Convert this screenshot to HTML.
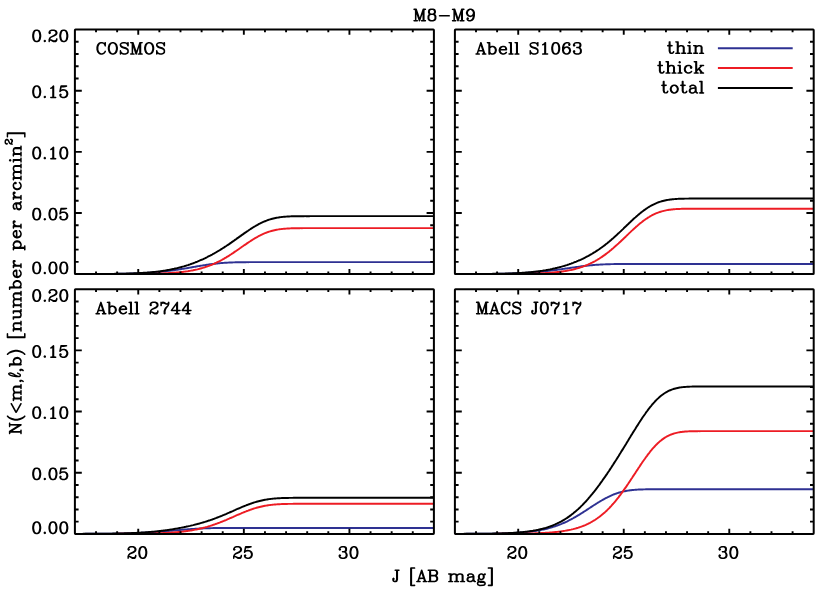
<!DOCTYPE html>
<html lang="en"><head><meta charset="utf-8"><title>M8-M9</title>
<style>html,body{margin:0;padding:0;background:#fff}svg{display:block}.h{fill:#000;stroke:none;fill-rule:evenodd}.s{font-family:"Liberation Serif",serif;font-size:16px;fill:#000;fill-opacity:0}</style></head><body>
<svg width="830" height="593" viewBox="0 0 830 593">
<rect width="830" height="593" fill="#fff"/>
<g>
<clipPath id="c0"><rect x="74.90" y="28.55" width="359.00" height="246.55"/></clipPath>
<polyline clip-path="url(#c0)" fill="none" stroke="#2e3192" stroke-width="1.95" stroke-linejoin="round" points="74.9,274.08 76.0,274.08 77.0,274.08 78.1,274.07 79.1,274.07 80.2,274.07 81.2,274.07 82.3,274.07 83.3,274.07 84.4,274.06 85.5,274.06 86.5,274.06 87.6,274.05 88.6,274.05 89.7,274.05 90.7,274.05 91.8,274.04 92.9,274.04 93.9,274.03 95.0,274.03 96.0,274.03 97.1,274.02 98.1,274.02 99.2,274.01 100.2,274.00 101.3,274.00 102.4,273.99 103.4,273.98 104.5,273.98 105.5,273.97 106.6,273.96 107.6,273.95 108.7,273.94 109.7,273.93 110.8,273.92 111.9,273.91 112.9,273.90 114.0,273.89 115.0,273.87 116.1,273.86 117.1,273.85 118.2,273.83 119.2,273.81 120.3,273.80 121.4,273.78 122.4,273.76 123.5,273.74 124.5,273.72 125.6,273.69 126.6,273.67 127.7,273.64 128.8,273.62 129.8,273.59 130.9,273.56 131.9,273.53 133.0,273.50 134.0,273.46 135.1,273.43 136.1,273.39 137.2,273.35 138.3,273.31 139.3,273.26 140.4,273.22 141.4,273.17 142.5,273.12 143.5,273.06 144.6,273.01 145.6,272.95 146.7,272.89 147.8,272.83 148.8,272.76 149.9,272.69 150.9,272.62 152.0,272.55 153.0,272.47 154.1,272.39 155.1,272.30 156.2,272.22 157.3,272.12 158.3,272.03 159.4,271.93 160.4,271.83 161.5,271.73 162.5,271.62 163.6,271.51 164.7,271.39 165.7,271.27 166.8,271.15 167.8,271.02 168.9,270.89 169.9,270.75 171.0,270.62 172.0,270.47 173.1,270.33 174.2,270.18 175.2,270.03 176.3,269.87 177.3,269.72 178.4,269.55 179.4,269.39 180.5,269.22 181.5,269.05 182.6,268.88 183.7,268.70 184.7,268.53 185.8,268.35 186.8,268.17 187.9,267.98 188.9,267.80 190.0,267.62 191.0,267.43 192.1,267.25 193.2,267.06 194.2,266.88 195.3,266.69 196.3,266.51 197.4,266.32 198.4,266.14 199.5,265.96 200.5,265.79 201.6,265.61 202.7,265.44 203.7,265.27 204.8,265.10 205.8,264.94 206.9,264.78 207.9,264.62 209.0,264.47 210.1,264.33 211.1,264.19 212.2,264.05 213.2,263.92 214.3,263.79 215.3,263.67 216.4,263.55 217.4,263.44 218.5,263.34 219.6,263.24 220.6,263.14 221.7,263.05 222.7,262.97 223.8,262.89 224.8,262.82 225.9,262.75 226.9,262.69 228.0,262.63 229.1,262.57 230.1,262.52 231.2,262.48 232.2,262.44 233.3,262.40 234.3,262.36 235.4,262.33 236.4,262.30 237.5,262.28 238.6,262.26 239.6,262.24 240.7,262.22 241.7,262.21 242.8,262.19 243.8,262.18 244.9,262.17 246.0,262.16 247.0,262.15 248.1,262.15 249.1,262.14 250.2,262.14 251.2,262.13 252.3,262.13 253.3,262.13 254.4,262.13 255.5,262.12 256.5,262.12 257.6,262.12 258.6,262.12 259.7,262.12 260.7,262.12 261.8,262.12 262.8,262.12 263.9,262.12 265.0,262.12 266.0,262.12 267.1,262.12 268.1,262.12 269.2,262.12 270.2,262.12 271.3,262.12 272.4,262.12 273.4,262.12 274.5,262.12 275.5,262.12 276.6,262.12 277.6,262.12 278.7,262.12 279.7,262.12 280.8,262.12 281.9,262.12 282.9,262.12 284.0,262.12 285.0,262.12 286.1,262.12 287.1,262.12 288.2,262.12 289.2,262.12 290.3,262.12 291.4,262.12 292.4,262.12 293.5,262.12 294.5,262.12 295.6,262.12 296.6,262.12 297.7,262.12 298.7,262.12 299.8,262.12 300.9,262.12 301.9,262.12 303.0,262.12 304.0,262.12 305.1,262.12 306.1,262.12 307.2,262.12 308.2,262.12 309.3,262.12 310.4,262.12 311.4,262.12 312.5,262.12 313.5,262.12 314.6,262.12 315.6,262.12 316.7,262.12 317.8,262.12 318.8,262.12 319.9,262.12 320.9,262.12 322.0,262.12 323.0,262.12 324.1,262.12 325.1,262.12 326.2,262.12 327.3,262.12 328.3,262.12 329.4,262.12 330.4,262.12 331.5,262.12 332.5,262.12 333.6,262.12 334.6,262.12 335.7,262.12 336.8,262.12 337.8,262.12 338.9,262.12 339.9,262.12 341.0,262.12 342.0,262.12 343.1,262.12 344.1,262.12 345.2,262.12 346.3,262.12 347.3,262.12 348.4,262.12 349.4,262.12 350.5,262.12 351.5,262.12 352.6,262.12 353.7,262.12 354.7,262.12 355.8,262.12 356.8,262.12 357.9,262.12 358.9,262.12 360.0,262.12 361.0,262.12 362.1,262.12 363.2,262.12 364.2,262.12 365.3,262.12 366.3,262.12 367.4,262.12 368.4,262.12 369.5,262.12 370.5,262.12 371.6,262.12 372.7,262.12 373.7,262.12 374.8,262.12 375.8,262.12 376.9,262.12 377.9,262.12 379.0,262.12 380.1,262.12 381.1,262.12 382.2,262.12 383.2,262.12 384.3,262.12 385.3,262.12 386.4,262.12 387.4,262.12 388.5,262.12 389.6,262.12 390.6,262.12 391.7,262.12 392.7,262.12 393.8,262.12 394.8,262.12 395.9,262.12 396.9,262.12 398.0,262.12 399.1,262.12 400.1,262.12 401.2,262.12 402.2,262.12 403.3,262.12 404.3,262.12 405.4,262.12 406.4,262.12 407.5,262.12 408.6,262.12 409.6,262.12 410.7,262.12 411.7,262.12 412.8,262.12 413.8,262.12 414.9,262.12 416.0,262.12 417.0,262.12 418.1,262.12 419.1,262.12 420.2,262.12 421.2,262.12 422.3,262.12 423.3,262.12 424.4,262.12 425.5,262.12 426.5,262.12 427.6,262.12 428.6,262.12 429.7,262.12 430.7,262.12 431.8,262.12 432.8,262.12 433.9,262.12"/>
<polyline clip-path="url(#c0)" fill="none" stroke="#ed1c24" stroke-width="1.95" stroke-linejoin="round" points="74.9,274.10 76.0,274.10 77.0,274.10 78.1,274.10 79.1,274.10 80.2,274.10 81.2,274.10 82.3,274.10 83.3,274.10 84.4,274.10 85.5,274.09 86.5,274.09 87.6,274.09 88.6,274.09 89.7,274.09 90.7,274.09 91.8,274.09 92.9,274.09 93.9,274.09 95.0,274.09 96.0,274.09 97.1,274.09 98.1,274.09 99.2,274.09 100.2,274.09 101.3,274.09 102.4,274.08 103.4,274.08 104.5,274.08 105.5,274.08 106.6,274.08 107.6,274.08 108.7,274.08 109.7,274.07 110.8,274.07 111.9,274.07 112.9,274.07 114.0,274.07 115.0,274.06 116.1,274.06 117.1,274.06 118.2,274.06 119.2,274.05 120.3,274.05 121.4,274.05 122.4,274.04 123.5,274.04 124.5,274.03 125.6,274.03 126.6,274.02 127.7,274.02 128.8,274.01 129.8,274.01 130.9,274.00 131.9,273.99 133.0,273.99 134.0,273.98 135.1,273.97 136.1,273.96 137.2,273.95 138.3,273.94 139.3,273.93 140.4,273.92 141.4,273.91 142.5,273.89 143.5,273.88 144.6,273.86 145.6,273.85 146.7,273.83 147.8,273.81 148.8,273.79 149.9,273.77 150.9,273.75 152.0,273.73 153.0,273.70 154.1,273.68 155.1,273.65 156.2,273.62 157.3,273.59 158.3,273.56 159.4,273.52 160.4,273.48 161.5,273.44 162.5,273.40 163.6,273.36 164.7,273.31 165.7,273.26 166.8,273.20 167.8,273.15 168.9,273.09 169.9,273.02 171.0,272.96 172.0,272.88 173.1,272.81 174.2,272.73 175.2,272.65 176.3,272.56 177.3,272.46 178.4,272.36 179.4,272.26 180.5,272.15 181.5,272.03 182.6,271.91 183.7,271.78 184.7,271.64 185.8,271.49 186.8,271.34 187.9,271.18 188.9,271.01 190.0,270.84 191.0,270.65 192.1,270.46 193.2,270.26 194.2,270.04 195.3,269.82 196.3,269.58 197.4,269.34 198.4,269.08 199.5,268.81 200.5,268.53 201.6,268.24 202.7,267.93 203.7,267.62 204.8,267.28 205.8,266.94 206.9,266.58 207.9,266.21 209.0,265.82 210.1,265.42 211.1,265.00 212.2,264.57 213.2,264.12 214.3,263.66 215.3,263.18 216.4,262.69 217.4,262.18 218.5,261.66 219.6,261.12 220.6,260.57 221.7,260.00 222.7,259.41 223.8,258.82 224.8,258.20 225.9,257.58 226.9,256.94 228.0,256.29 229.1,255.63 230.1,254.95 231.2,254.27 232.2,253.57 233.3,252.87 234.3,252.16 235.4,251.44 236.4,250.71 237.5,249.98 238.6,249.24 239.6,248.51 240.7,247.77 241.7,247.03 242.8,246.29 243.8,245.55 244.9,244.82 246.0,244.09 247.0,243.37 248.1,242.65 249.1,241.95 250.2,241.25 251.2,240.57 252.3,239.90 253.3,239.24 254.4,238.60 255.5,237.97 256.5,237.36 257.6,236.77 258.6,236.20 259.7,235.65 260.7,235.12 261.8,234.61 262.8,234.12 263.9,233.65 265.0,233.21 266.0,232.79 267.1,232.39 268.1,232.01 269.2,231.66 270.2,231.33 271.3,231.02 272.4,230.73 273.4,230.46 274.5,230.22 275.5,229.99 276.6,229.78 277.6,229.59 278.7,229.41 279.7,229.26 280.8,229.11 281.9,228.99 282.9,228.87 284.0,228.77 285.0,228.68 286.1,228.60 287.1,228.53 288.2,228.47 289.2,228.41 290.3,228.37 291.4,228.33 292.4,228.29 293.5,228.26 294.5,228.24 295.6,228.22 296.6,228.20 297.7,228.18 298.7,228.17 299.8,228.16 300.9,228.15 301.9,228.15 303.0,228.14 304.0,228.14 305.1,228.14 306.1,228.13 307.2,228.13 308.2,228.13 309.3,228.13 310.4,228.13 311.4,228.13 312.5,228.13 313.5,228.13 314.6,228.13 315.6,228.13 316.7,228.12 317.8,228.12 318.8,228.12 319.9,228.12 320.9,228.12 322.0,228.12 323.0,228.12 324.1,228.12 325.1,228.12 326.2,228.12 327.3,228.12 328.3,228.12 329.4,228.12 330.4,228.12 331.5,228.12 332.5,228.12 333.6,228.12 334.6,228.12 335.7,228.12 336.8,228.12 337.8,228.12 338.9,228.12 339.9,228.12 341.0,228.12 342.0,228.12 343.1,228.12 344.1,228.12 345.2,228.12 346.3,228.12 347.3,228.12 348.4,228.12 349.4,228.12 350.5,228.12 351.5,228.12 352.6,228.12 353.7,228.12 354.7,228.12 355.8,228.12 356.8,228.12 357.9,228.12 358.9,228.12 360.0,228.12 361.0,228.12 362.1,228.12 363.2,228.12 364.2,228.12 365.3,228.12 366.3,228.12 367.4,228.12 368.4,228.12 369.5,228.12 370.5,228.12 371.6,228.12 372.7,228.12 373.7,228.12 374.8,228.12 375.8,228.12 376.9,228.12 377.9,228.12 379.0,228.12 380.1,228.12 381.1,228.12 382.2,228.12 383.2,228.12 384.3,228.12 385.3,228.12 386.4,228.12 387.4,228.12 388.5,228.12 389.6,228.12 390.6,228.12 391.7,228.12 392.7,228.12 393.8,228.12 394.8,228.12 395.9,228.12 396.9,228.12 398.0,228.12 399.1,228.12 400.1,228.12 401.2,228.12 402.2,228.12 403.3,228.12 404.3,228.12 405.4,228.12 406.4,228.12 407.5,228.12 408.6,228.12 409.6,228.12 410.7,228.12 411.7,228.12 412.8,228.12 413.8,228.12 414.9,228.12 416.0,228.12 417.0,228.12 418.1,228.12 419.1,228.12 420.2,228.12 421.2,228.12 422.3,228.12 423.3,228.12 424.4,228.12 425.5,228.12 426.5,228.12 427.6,228.12 428.6,228.12 429.7,228.12 430.7,228.12 431.8,228.12 432.8,228.12 433.9,228.12"/>
<polyline clip-path="url(#c0)" fill="none" stroke="#000" stroke-width="1.95" stroke-linejoin="round" points="74.9,274.08 76.0,274.08 77.0,274.07 78.1,274.07 79.1,274.07 80.2,274.07 81.2,274.07 82.3,274.06 83.3,274.06 84.4,274.06 85.5,274.06 86.5,274.05 87.6,274.05 88.6,274.05 89.7,274.04 90.7,274.04 91.8,274.03 92.9,274.03 93.9,274.02 95.0,274.02 96.0,274.01 97.1,274.01 98.1,274.00 99.2,274.00 100.2,273.99 101.3,273.98 102.4,273.98 103.4,273.97 104.5,273.96 105.5,273.95 106.6,273.94 107.6,273.93 108.7,273.92 109.7,273.91 110.8,273.89 111.9,273.88 112.9,273.87 114.0,273.85 115.0,273.84 116.1,273.82 117.1,273.80 118.2,273.79 119.2,273.77 120.3,273.74 121.4,273.72 122.4,273.70 123.5,273.68 124.5,273.65 125.6,273.62 126.6,273.59 127.7,273.56 128.8,273.53 129.8,273.50 130.9,273.46 131.9,273.42 133.0,273.38 134.0,273.34 135.1,273.30 136.1,273.25 137.2,273.20 138.3,273.15 139.3,273.09 140.4,273.03 141.4,272.97 142.5,272.91 143.5,272.84 144.6,272.77 145.6,272.70 146.7,272.62 147.8,272.54 148.8,272.46 149.9,272.37 150.9,272.27 152.0,272.18 153.0,272.07 154.1,271.97 155.1,271.85 156.2,271.74 157.3,271.61 158.3,271.49 159.4,271.35 160.4,271.21 161.5,271.07 162.5,270.92 163.6,270.76 164.7,270.60 165.7,270.43 166.8,270.25 167.8,270.07 168.9,269.88 169.9,269.68 171.0,269.47 172.0,269.26 173.1,269.04 174.2,268.81 175.2,268.57 176.3,268.33 177.3,268.08 178.4,267.82 179.4,267.55 180.5,267.27 181.5,266.98 182.6,266.68 183.7,266.38 184.7,266.06 185.8,265.74 186.8,265.41 187.9,265.07 188.9,264.72 190.0,264.35 191.0,263.98 192.1,263.61 193.2,263.22 194.2,262.82 195.3,262.41 196.3,261.99 197.4,261.56 198.4,261.12 199.5,260.68 200.5,260.22 201.6,259.75 202.7,259.27 203.7,258.78 204.8,258.29 205.8,257.78 206.9,257.26 207.9,256.73 209.0,256.19 210.1,255.64 211.1,255.09 212.2,254.52 213.2,253.94 214.3,253.35 215.3,252.75 216.4,252.14 217.4,251.52 218.5,250.90 219.6,250.26 220.6,249.61 221.7,248.95 222.7,248.28 223.8,247.61 224.8,246.92 225.9,246.23 226.9,245.53 228.0,244.82 229.1,244.10 230.1,243.38 231.2,242.64 232.2,241.91 233.3,241.17 234.3,240.42 235.4,239.67 236.4,238.92 237.5,238.16 238.6,237.40 239.6,236.65 240.7,235.89 241.7,235.13 242.8,234.38 243.8,233.63 244.9,232.89 246.0,232.15 247.0,231.42 248.1,230.70 249.1,229.99 250.2,229.29 251.2,228.60 252.3,227.93 253.3,227.27 254.4,226.62 255.5,226.00 256.5,225.38 257.6,224.79 258.6,224.22 259.7,223.67 260.7,223.14 261.8,222.63 262.8,222.14 263.9,221.67 265.0,221.23 266.0,220.81 267.1,220.41 268.1,220.03 269.2,219.68 270.2,219.35 271.3,219.04 272.4,218.75 273.4,218.48 274.5,218.23 275.5,218.01 276.6,217.80 277.6,217.61 278.7,217.43 279.7,217.27 280.8,217.13 281.9,217.00 282.9,216.89 284.0,216.79 285.0,216.69 286.1,216.61 287.1,216.54 288.2,216.48 289.2,216.43 290.3,216.38 291.4,216.34 292.4,216.31 293.5,216.28 294.5,216.25 295.6,216.23 296.6,216.22 297.7,216.20 298.7,216.19 299.8,216.18 300.9,216.17 301.9,216.17 303.0,216.16 304.0,216.16 305.1,216.15 306.1,216.15 307.2,216.15 308.2,216.15 309.3,216.15 310.4,216.14 311.4,216.14 312.5,216.14 313.5,216.14 314.6,216.14 315.6,216.14 316.7,216.14 317.8,216.14 318.8,216.14 319.9,216.14 320.9,216.14 322.0,216.14 323.0,216.14 324.1,216.14 325.1,216.14 326.2,216.14 327.3,216.14 328.3,216.14 329.4,216.14 330.4,216.14 331.5,216.14 332.5,216.14 333.6,216.14 334.6,216.14 335.7,216.14 336.8,216.14 337.8,216.14 338.9,216.14 339.9,216.14 341.0,216.14 342.0,216.14 343.1,216.14 344.1,216.14 345.2,216.14 346.3,216.14 347.3,216.14 348.4,216.14 349.4,216.14 350.5,216.14 351.5,216.14 352.6,216.14 353.7,216.14 354.7,216.14 355.8,216.14 356.8,216.14 357.9,216.14 358.9,216.14 360.0,216.14 361.0,216.14 362.1,216.14 363.2,216.14 364.2,216.14 365.3,216.14 366.3,216.14 367.4,216.14 368.4,216.14 369.5,216.14 370.5,216.14 371.6,216.14 372.7,216.14 373.7,216.14 374.8,216.14 375.8,216.14 376.9,216.14 377.9,216.14 379.0,216.14 380.1,216.14 381.1,216.14 382.2,216.14 383.2,216.14 384.3,216.14 385.3,216.14 386.4,216.14 387.4,216.14 388.5,216.14 389.6,216.14 390.6,216.14 391.7,216.14 392.7,216.14 393.8,216.14 394.8,216.14 395.9,216.14 396.9,216.14 398.0,216.14 399.1,216.14 400.1,216.14 401.2,216.14 402.2,216.14 403.3,216.14 404.3,216.14 405.4,216.14 406.4,216.14 407.5,216.14 408.6,216.14 409.6,216.14 410.7,216.14 411.7,216.14 412.8,216.14 413.8,216.14 414.9,216.14 416.0,216.14 417.0,216.14 418.1,216.14 419.1,216.14 420.2,216.14 421.2,216.14 422.3,216.14 423.3,216.14 424.4,216.14 425.5,216.14 426.5,216.14 427.6,216.14 428.6,216.14 429.7,216.14 430.7,216.14 431.8,216.14 432.8,216.14 433.9,216.14"/>
<path d="M96.02 274.10v-2.70M96.02 29.55v2.70M117.14 274.10v-2.70M117.14 29.55v2.70M138.25 274.10v-5.20M138.25 29.55v5.20M159.37 274.10v-2.70M159.37 29.55v2.70M180.49 274.10v-2.70M180.49 29.55v2.70M201.61 274.10v-2.70M201.61 29.55v2.70M222.72 274.10v-2.70M222.72 29.55v2.70M243.84 274.10v-5.20M243.84 29.55v5.20M264.96 274.10v-2.70M264.96 29.55v2.70M286.08 274.10v-2.70M286.08 29.55v2.70M307.19 274.10v-2.70M307.19 29.55v2.70M328.31 274.10v-2.70M328.31 29.55v2.70M349.43 274.10v-5.20M349.43 29.55v5.20M370.55 274.10v-2.70M370.55 29.55v2.70M391.66 274.10v-2.70M391.66 29.55v2.70M412.78 274.10v-2.70M412.78 29.55v2.70M74.90 261.87h3.70M433.90 261.87h-3.70M74.90 249.65h3.70M433.90 249.65h-3.70M74.90 237.42h3.70M433.90 237.42h-3.70M74.90 225.19h3.70M433.90 225.19h-3.70M74.90 212.96h6.90M433.90 212.96h-7.30M74.90 200.74h3.70M433.90 200.74h-3.70M74.90 188.51h3.70M433.90 188.51h-3.70M74.90 176.28h3.70M433.90 176.28h-3.70M74.90 164.05h3.70M433.90 164.05h-3.70M74.90 151.83h6.90M433.90 151.83h-7.30M74.90 139.60h3.70M433.90 139.60h-3.70M74.90 127.37h3.70M433.90 127.37h-3.70M74.90 115.14h3.70M433.90 115.14h-3.70M74.90 102.92h3.70M433.90 102.92h-3.70M74.90 90.69h6.90M433.90 90.69h-7.30M74.90 78.46h3.70M433.90 78.46h-3.70M74.90 66.23h3.70M433.90 66.23h-3.70M74.90 54.01h3.70M433.90 54.01h-3.70M74.90 41.78h3.70M433.90 41.78h-3.70" fill="none" stroke="#000" stroke-width="1.9"/>
<rect x="74.90" y="29.55" width="359.00" height="244.55" rx="0.6" fill="none" stroke="#000" stroke-width="2" stroke-linejoin="round"/>
<path class="h" transform="translate(95.50 54.05) translate(0.00 0) scale(0.06250)" d="M1019-194l-26 9l-22 20l-3 8l1 24l8 16l16 16l18 9l50 16l16 8l12 12l0 25l-12 12l-21 7l-22 0l-21-7l-14-14l-9-25l-6-5l-9 0l-6 6l-1 4l0 54l1 4l10 7l7-2l6-7l2-6l10 7l24 8l34 0l31-12l17-17l4-10l0-33l-2-7l-8-16l-15-15l-18-9l-47-15l-19-9l-13-13l0-7l12-12l21-7l23 0l20 7l15 15l8 24l6 5l9 0l5-4l3-8l0-51l-3-7l-8-5l-8 2l-6 7l-2 6l-10-7l-24-8zM846-194l-31 12l-20 21l-8 16l-10 37l0 33l8 32l10 22l20 21l31 12l25 0l31-12l20-21l8-16l10-37l0-34l-8-32l-10-21l-20-21l-31-12zM853-170l11 0l11 5l17 16l7 14l8 31l0 26l-8 31l-8 15l-12 12l-15 8l-11 0l-12-6l-15-14l-8-15l-8-31l0-26l8-31l8-15l13-13zM557-192l-5 7l2 10l5 4l17 1l2 2l0 154l-2 2l-13 0l-7 3l-4 6l2 10l9 5l54 0l5-2l5-6l0-8l-5-6l-20-3l1-90l35 106l10 9l9-2l6-8l35-105l1 90l-20 3l-5 6l0 8l5 6l5 2l63 0l5-2l5-6l-1-10l-9-6l-15-1l0-156l20-3l5-6l-1-10l-9-6l-39 0l-7 5l-46 136l-46-135l-8-6l-39 0zM438-194l-26 9l-22 20l-3 7l1 25l8 16l16 16l18 9l50 16l16 8l12 12l0 25l-12 12l-21 7l-22 0l-21-7l-14-14l-9-25l-6-5l-9 0l-6 6l-1 4l0 54l1 4l10 7l7-2l6-7l2-6l10 7l24 8l34 0l31-12l17-17l4-10l0-33l-2-7l-8-16l-15-15l-18-9l-47-15l-19-9l-13-13l0-7l12-12l21-7l23 0l20 7l14 14l9 25l6 5l9 0l5-4l3-8l0-51l-3-7l-8-5l-8 2l-6 7l-2 6l-10-7l-24-8zM265-194l-31 12l-20 21l-8 16l-10 37l0 33l8 32l10 22l20 21l31 12l25 0l31-12l20-21l8-16l10-38l0-33l-10-37l-8-16l-20-21l-31-12zM272-170l11 0l11 5l17 16l7 14l8 31l0 26l-8 31l-8 15l-12 12l-15 8l-11 0l-12-6l-15-14l-8-15l-8-31l0-26l8-31l7-14l14-14zM158-194l-7 1l-7 8l-2 6l-10-7l-24-8l-26 0l-27 10l-23 23l-9 18l-9 29l0 45l9 30l9 18l25 24l26 9l25 0l31-12l21-23l7-14l1-8l-5-8l-10-2l-8 6l-7 15l-15 15l-21 7l-12 0l-14-7l-14-14l-8-16l-7-21l0-42l7-21l8-16l14-14l11-6l16-1l20 7l14 14l7 22l6 7l6 2l4-1l7-6l1-59l-2-5z"/>
<text class="s" x="95.5" y="54.2">COSMOS</text>
<path class="h" transform="translate(68.40 273.60) translate(-37.12 0) scale(0.06250)" d="M213-29l-14 12l-3 8l3 9l13 11l6 1l7-3l9-9l3-5l0-7l-11-14l-6-3zM507-194l-27 10l-5 4l-19 30l-9 46l0 26l9 46l19 30l9 6l24 8l25 0l29-11l21-29l10-46l0-34l-10-46l-16-24l-10-8l-24-8zM515-170l11 0l12 6l8 8l7 15l7 35l0 29l-8 39l-6 12l-8 8l-12 6l-14-1l-11-6l-7-8l-6-13l-8-42l0-18l9-45l6-12l7-7zM334-194l-24 8l-6 4l-19 27l-11 48l0 32l9 43l18 29l7 6l26 9l25 0l28-10l5-4l17-25l10-44l1-33l-9-46l-18-29l-7-6l-26-9zM341-170l12 0l12 6l7 7l7 14l8 41l0 22l-9 43l-6 12l-7 7l-13 6l-11 0l-12-6l-7-7l-7-14l-8-39l0-27l9-41l6-11l7-7zM74-194l-29 11l-19 26l-4 9l-8 40l0 34l8 40l18 30l10 8l24 8l25 0l24-8l9-6l19-30l9-46l0-26l-9-46l-19-30l-9-6l-23-8zM81-170l12 0l12 6l7 7l7 15l8 41l0 20l-9 44l-5 10l-7 8l-14 7l-11 0l-12-6l-8-8l-6-12l-8-39l0-28l8-39l6-12l8-8z"/>
<text class="s" text-anchor="end" x="68" y="273.60">0.00</text>
<path class="h" transform="translate(68.40 219.76) translate(-37.12 0) scale(0.06250)" d="M213-29l-14 12l-3 8l3 9l13 11l6 1l7-3l9-9l3-5l0-7l-11-14l-6-3zM474-194l-7 5l-3 7l-16 80l0 10l2 4l6 4l8 0l21-19l18-6l24 0l12 6l14 14l7 20l0 16l-7 20l-15 15l-12 6l-21 0l-21-7l-6-8l10-12l0-9l-11-13l-8-3l-9 3l-11 12l-2 6l2 15l8 16l11 12l31 12l34 0l24-8l7-4l17-17l12-31l0-25l-9-26l-20-22l-6-4l-24-8l-31-1l-21 7l-3-1l7-33l34 0l43-8l11-7l2-6l-1-4l-8-8zM334-194l-24 8l-6 4l-19 27l-11 48l0 32l9 43l18 29l7 6l26 9l25 0l28-10l5-4l17-25l10-44l1-33l-9-46l-18-29l-7-6l-26-9zM341-170l12 0l12 6l7 7l7 14l8 41l0 22l-9 43l-6 12l-7 7l-13 6l-11 0l-12-6l-7-7l-7-14l-8-39l0-27l9-41l6-11l7-7zM74-194l-29 11l-19 26l-4 9l-8 40l0 34l8 40l18 30l10 8l24 8l25 0l24-8l9-6l19-30l9-46l0-26l-9-46l-19-30l-9-6l-23-8zM81-170l12 0l12 6l7 7l7 15l8 41l0 20l-9 44l-5 10l-7 8l-14 7l-11 0l-12-6l-8-8l-6-12l-8-39l0-28l8-39l6-12l8-8z"/>
<text class="s" text-anchor="end" x="68" y="219.76">0.05</text>
<path class="h" transform="translate(68.40 158.63) translate(-37.12 0) scale(0.06250)" d="M213-29l-14 12l-3 8l3 9l13 11l6 1l7-3l9-9l3-5l0-7l-11-14l-6-3zM507-194l-27 10l-5 4l-19 30l-9 46l0 26l9 46l19 30l9 6l24 8l25 0l29-11l21-29l10-46l0-34l-10-46l-16-24l-10-8l-24-8zM515-170l11 0l12 6l8 8l7 15l7 35l0 29l-8 39l-6 12l-8 8l-12 6l-14-1l-11-6l-7-8l-6-13l-8-42l0-18l9-45l6-12l7-7zM357-194l-10 3l-26 26l-13 6l-7 8l1 10l7 5l7 0l16-8l3 1l0 130l-24 1l-9 6l-1 10l5 6l5 2l80 0l8-4l3-6l-2-9l-5-4l-27-2l0-169l-2-6zM74-194l-29 11l-19 26l-4 9l-8 40l0 34l8 40l18 30l10 8l24 8l25 0l24-8l9-6l19-30l9-46l0-26l-9-46l-19-30l-9-6l-23-8zM81-170l12 0l12 6l7 7l7 15l8 41l0 20l-9 44l-5 10l-7 8l-14 7l-11 0l-12-6l-8-8l-6-12l-8-39l0-28l8-39l6-12l8-8z"/>
<text class="s" text-anchor="end" x="68" y="158.63">0.10</text>
<path class="h" transform="translate(68.40 97.49) translate(-37.12 0) scale(0.06250)" d="M213-29l-14 12l-3 8l3 9l13 11l6 1l7-3l9-9l3-5l0-7l-11-14l-6-3zM474-194l-7 5l-3 7l-16 80l0 10l2 4l6 4l8 0l21-19l18-6l24 0l12 6l14 14l7 20l0 16l-7 20l-15 15l-12 6l-21 0l-21-7l-6-8l10-12l0-9l-11-13l-8-3l-9 3l-11 12l-2 6l2 15l8 16l11 12l31 12l34 0l24-8l7-4l17-17l12-31l0-25l-9-26l-20-22l-6-4l-24-8l-31-1l-21 7l-3-1l7-33l34 0l43-8l11-7l2-6l-1-4l-8-8zM357-194l-10 3l-26 26l-13 6l-7 8l1 10l7 5l7 0l16-8l3 1l0 130l-24 1l-9 6l-1 10l5 6l5 2l80 0l8-4l3-6l-2-9l-5-4l-27-2l0-169l-2-6zM74-194l-29 11l-19 26l-4 9l-8 40l0 34l8 40l18 30l10 8l24 8l25 0l24-8l9-6l19-30l9-46l0-26l-9-46l-19-30l-9-6l-23-8zM81-170l12 0l12 6l7 7l7 15l8 41l0 20l-9 44l-5 10l-7 8l-14 7l-11 0l-12-6l-8-8l-6-12l-8-39l0-28l8-39l6-12l8-8z"/>
<text class="s" text-anchor="end" x="68" y="97.49">0.15</text>
<path class="h" transform="translate(68.40 41.55) translate(-37.12 0) scale(0.06250)" d="M213-29l-14 12l-3 8l3 9l13 11l6 1l7-3l9-9l3-5l0-7l-11-14l-6-3zM507-194l-27 10l-5 4l-19 30l-9 46l0 26l9 46l19 30l9 6l24 8l25 0l29-11l21-29l10-46l0-34l-10-46l-16-24l-10-8l-24-8zM515-170l11 0l12 6l8 8l7 15l7 35l0 29l-8 39l-6 12l-8 8l-12 6l-14-1l-11-6l-7-8l-6-13l-8-42l0-18l9-45l6-12l7-7zM302-186l-7 4l-9 9l-11 20l0 18l2 5l10 9l8 3l4-1l13-11l3-5l0-7l-3-6l-8-8l5-6l22-8l30 0l11 5l8 7l7 14l0 11l-9 14l-23 15l-52 26l-17 17l-11 29l0 36l7 7l9 0l5-4l2-5l0-14l2-2l9 0l42 25l44 0l13-11l11-22l1-21l-2-6l-5-5l-11 0l-5 5l-2 6l0 12l-16 10l-22 0l-38-16l-14-1l-1-4l16-18l56-23l28-18l6-6l9-19l1-22l-12-25l-9-9l-31-12l-43 0zM74-194l-29 11l-19 26l-4 9l-8 40l0 34l8 40l18 30l10 8l24 8l25 0l24-8l9-6l19-30l9-46l0-26l-9-46l-19-30l-9-6l-23-8zM81-170l12 0l12 6l7 7l7 15l8 41l0 20l-9 44l-5 10l-7 8l-14 7l-11 0l-12-6l-8-8l-6-12l-8-39l0-28l8-39l6-12l8-8z"/>
<text class="s" text-anchor="end" x="68" y="41.55">0.20</text>
</g>
<g>
<clipPath id="c1"><rect x="454.90" y="28.55" width="358.80" height="246.55"/></clipPath>
<polyline clip-path="url(#c1)" fill="none" stroke="#2e3192" stroke-width="1.95" stroke-linejoin="round" points="454.9,274.08 456.0,274.08 457.0,274.07 458.1,274.07 459.1,274.07 460.2,274.07 461.2,274.07 462.3,274.06 463.3,274.06 464.4,274.06 465.5,274.06 466.5,274.05 467.6,274.05 468.6,274.05 469.7,274.04 470.7,274.04 471.8,274.04 472.8,274.03 473.9,274.03 475.0,274.02 476.0,274.02 477.1,274.01 478.1,274.01 479.2,274.00 480.2,273.99 481.3,273.99 482.3,273.98 483.4,273.97 484.4,273.97 485.5,273.96 486.6,273.95 487.6,273.94 488.7,273.93 489.7,273.92 490.8,273.91 491.8,273.89 492.9,273.88 493.9,273.87 495.0,273.85 496.1,273.84 497.1,273.82 498.2,273.81 499.2,273.79 500.3,273.77 501.3,273.75 502.4,273.73 503.4,273.71 504.5,273.69 505.6,273.66 506.6,273.64 507.7,273.61 508.7,273.58 509.8,273.55 510.8,273.52 511.9,273.49 512.9,273.46 514.0,273.42 515.1,273.38 516.1,273.34 517.2,273.30 518.2,273.26 519.3,273.21 520.3,273.17 521.4,273.12 522.4,273.07 523.5,273.01 524.5,272.96 525.6,272.90 526.7,272.84 527.7,272.77 528.8,272.71 529.8,272.64 530.9,272.56 531.9,272.49 533.0,272.41 534.0,272.33 535.1,272.25 536.2,272.16 537.2,272.07 538.3,271.98 539.3,271.88 540.4,271.79 541.4,271.68 542.5,271.58 543.5,271.47 544.6,271.36 545.7,271.25 546.7,271.13 547.8,271.01 548.8,270.88 549.9,270.76 550.9,270.63 552.0,270.50 553.0,270.36 554.1,270.23 555.2,270.09 556.2,269.94 557.3,269.80 558.3,269.65 559.4,269.50 560.4,269.35 561.5,269.20 562.5,269.05 563.6,268.90 564.7,268.74 565.7,268.58 566.8,268.43 567.8,268.27 568.9,268.11 569.9,267.96 571.0,267.80 572.0,267.65 573.1,267.49 574.1,267.34 575.2,267.19 576.3,267.04 577.3,266.89 578.4,266.75 579.4,266.60 580.5,266.46 581.5,266.33 582.6,266.19 583.6,266.06 584.7,265.94 585.8,265.81 586.8,265.70 587.9,265.58 588.9,265.47 590.0,265.36 591.0,265.26 592.1,265.17 593.1,265.07 594.2,264.99 595.3,264.90 596.3,264.82 597.4,264.75 598.4,264.68 599.5,264.61 600.5,264.55 601.6,264.50 602.6,264.44 603.7,264.39 604.8,264.35 605.8,264.31 606.9,264.27 607.9,264.24 609.0,264.21 610.0,264.18 611.1,264.15 612.1,264.13 613.2,264.11 614.2,264.09 615.3,264.07 616.4,264.06 617.4,264.05 618.5,264.04 619.5,264.03 620.6,264.02 621.6,264.01 622.7,264.01 623.7,264.00 624.8,264.00 625.9,263.99 626.9,263.99 628.0,263.99 629.0,263.98 630.1,263.98 631.1,263.98 632.2,263.98 633.2,263.98 634.3,263.98 635.4,263.98 636.4,263.98 637.5,263.98 638.5,263.98 639.6,263.98 640.6,263.98 641.7,263.98 642.7,263.98 643.8,263.98 644.9,263.98 645.9,263.98 647.0,263.98 648.0,263.98 649.1,263.98 650.1,263.98 651.2,263.98 652.2,263.98 653.3,263.98 654.4,263.98 655.4,263.98 656.5,263.98 657.5,263.98 658.6,263.98 659.6,263.98 660.7,263.98 661.7,263.98 662.8,263.98 663.8,263.98 664.9,263.98 666.0,263.98 667.0,263.98 668.1,263.98 669.1,263.98 670.2,263.98 671.2,263.98 672.3,263.98 673.3,263.98 674.4,263.98 675.5,263.98 676.5,263.98 677.6,263.98 678.6,263.98 679.7,263.98 680.7,263.98 681.8,263.98 682.8,263.98 683.9,263.98 685.0,263.98 686.0,263.98 687.1,263.98 688.1,263.98 689.2,263.98 690.2,263.98 691.3,263.98 692.3,263.98 693.4,263.98 694.5,263.98 695.5,263.98 696.6,263.98 697.6,263.98 698.7,263.98 699.7,263.98 700.8,263.98 701.8,263.98 702.9,263.98 703.9,263.98 705.0,263.98 706.1,263.98 707.1,263.98 708.2,263.98 709.2,263.98 710.3,263.98 711.3,263.98 712.4,263.98 713.4,263.98 714.5,263.98 715.6,263.98 716.6,263.98 717.7,263.98 718.7,263.98 719.8,263.98 720.8,263.98 721.9,263.98 722.9,263.98 724.0,263.98 725.1,263.98 726.1,263.98 727.2,263.98 728.2,263.98 729.3,263.98 730.3,263.98 731.4,263.98 732.4,263.98 733.5,263.98 734.6,263.98 735.6,263.98 736.7,263.98 737.7,263.98 738.8,263.98 739.8,263.98 740.9,263.98 741.9,263.98 743.0,263.98 744.1,263.98 745.1,263.98 746.2,263.98 747.2,263.98 748.3,263.98 749.3,263.98 750.4,263.98 751.4,263.98 752.5,263.98 753.5,263.98 754.6,263.98 755.7,263.98 756.7,263.98 757.8,263.98 758.8,263.98 759.9,263.98 760.9,263.98 762.0,263.98 763.0,263.98 764.1,263.98 765.2,263.98 766.2,263.98 767.3,263.98 768.3,263.98 769.4,263.98 770.4,263.98 771.5,263.98 772.5,263.98 773.6,263.98 774.7,263.98 775.7,263.98 776.8,263.98 777.8,263.98 778.9,263.98 779.9,263.98 781.0,263.98 782.0,263.98 783.1,263.98 784.2,263.98 785.2,263.98 786.3,263.98 787.3,263.98 788.4,263.98 789.4,263.98 790.5,263.98 791.5,263.98 792.6,263.98 793.6,263.98 794.7,263.98 795.8,263.98 796.8,263.98 797.9,263.98 798.9,263.98 800.0,263.98 801.0,263.98 802.1,263.98 803.1,263.98 804.2,263.98 805.3,263.98 806.3,263.98 807.4,263.98 808.4,263.98 809.5,263.98 810.5,263.98 811.6,263.98 812.6,263.98 813.7,263.98"/>
<polyline clip-path="url(#c1)" fill="none" stroke="#ed1c24" stroke-width="1.95" stroke-linejoin="round" points="454.9,274.10 456.0,274.10 457.0,274.10 458.1,274.10 459.1,274.09 460.2,274.09 461.2,274.09 462.3,274.09 463.3,274.09 464.4,274.09 465.5,274.09 466.5,274.09 467.6,274.09 468.6,274.09 469.7,274.09 470.7,274.09 471.8,274.09 472.8,274.09 473.9,274.09 475.0,274.09 476.0,274.09 477.1,274.08 478.1,274.08 479.2,274.08 480.2,274.08 481.3,274.08 482.3,274.08 483.4,274.08 484.4,274.07 485.5,274.07 486.6,274.07 487.6,274.07 488.7,274.07 489.7,274.06 490.8,274.06 491.8,274.06 492.9,274.06 493.9,274.05 495.0,274.05 496.1,274.05 497.1,274.04 498.2,274.04 499.2,274.04 500.3,274.03 501.3,274.03 502.4,274.02 503.4,274.02 504.5,274.01 505.6,274.01 506.6,274.00 507.7,273.99 508.7,273.98 509.8,273.98 510.8,273.97 511.9,273.96 512.9,273.95 514.0,273.94 515.1,273.93 516.1,273.92 517.2,273.91 518.2,273.89 519.3,273.88 520.3,273.87 521.4,273.85 522.4,273.83 523.5,273.82 524.5,273.80 525.6,273.78 526.7,273.76 527.7,273.73 528.8,273.71 529.8,273.68 530.9,273.66 531.9,273.63 533.0,273.60 534.0,273.57 535.1,273.53 536.2,273.50 537.2,273.46 538.3,273.42 539.3,273.37 540.4,273.33 541.4,273.28 542.5,273.23 543.5,273.17 544.6,273.11 545.7,273.05 546.7,272.99 547.8,272.92 548.8,272.85 549.9,272.77 550.9,272.69 552.0,272.60 553.0,272.51 554.1,272.41 555.2,272.31 556.2,272.21 557.3,272.09 558.3,271.97 559.4,271.85 560.4,271.71 561.5,271.57 562.5,271.43 563.6,271.27 564.7,271.11 565.7,270.94 566.8,270.76 567.8,270.57 568.9,270.37 569.9,270.16 571.0,269.94 572.0,269.70 573.1,269.46 574.1,269.21 575.2,268.94 576.3,268.66 577.3,268.37 578.4,268.06 579.4,267.74 580.5,267.41 581.5,267.06 582.6,266.70 583.6,266.32 584.7,265.92 585.8,265.51 586.8,265.08 587.9,264.63 588.9,264.17 590.0,263.68 591.0,263.18 592.1,262.66 593.1,262.12 594.2,261.57 595.3,260.99 596.3,260.39 597.4,259.77 598.4,259.13 599.5,258.48 600.5,257.80 601.6,257.10 602.6,256.38 603.7,255.64 604.8,254.88 605.8,254.11 606.9,253.31 607.9,252.49 609.0,251.66 610.0,250.80 611.1,249.93 612.1,249.05 613.2,248.14 614.2,247.22 615.3,246.29 616.4,245.35 617.4,244.39 618.5,243.42 619.5,242.44 620.6,241.45 621.6,240.45 622.7,239.45 623.7,238.44 624.8,237.43 625.9,236.42 626.9,235.41 628.0,234.40 629.0,233.39 630.1,232.39 631.1,231.39 632.2,230.40 633.2,229.43 634.3,228.46 635.4,227.51 636.4,226.57 637.5,225.65 638.5,224.74 639.6,223.86 640.6,223.00 641.7,222.16 642.7,221.34 643.8,220.55 644.9,219.78 645.9,219.04 647.0,218.33 648.0,217.64 649.1,216.99 650.1,216.36 651.2,215.76 652.2,215.20 653.3,214.66 654.4,214.15 655.4,213.67 656.5,213.22 657.5,212.80 658.6,212.41 659.6,212.04 660.7,211.70 661.7,211.39 662.8,211.10 663.8,210.83 664.9,210.59 666.0,210.36 667.0,210.16 668.1,209.98 669.1,209.82 670.2,209.67 671.2,209.54 672.3,209.42 673.3,209.32 674.4,209.23 675.5,209.15 676.5,209.07 677.6,209.01 678.6,208.96 679.7,208.92 680.7,208.88 681.8,208.84 682.8,208.81 683.9,208.79 685.0,208.77 686.0,208.75 687.1,208.74 688.1,208.73 689.2,208.72 690.2,208.71 691.3,208.71 692.3,208.70 693.4,208.70 694.5,208.69 695.5,208.69 696.6,208.69 697.6,208.69 698.7,208.69 699.7,208.69 700.8,208.68 701.8,208.68 702.9,208.68 703.9,208.68 705.0,208.68 706.1,208.68 707.1,208.68 708.2,208.68 709.2,208.68 710.3,208.68 711.3,208.68 712.4,208.68 713.4,208.68 714.5,208.68 715.6,208.68 716.6,208.68 717.7,208.68 718.7,208.68 719.8,208.68 720.8,208.68 721.9,208.68 722.9,208.68 724.0,208.68 725.1,208.68 726.1,208.68 727.2,208.68 728.2,208.68 729.3,208.68 730.3,208.68 731.4,208.68 732.4,208.68 733.5,208.68 734.6,208.68 735.6,208.68 736.7,208.68 737.7,208.68 738.8,208.68 739.8,208.68 740.9,208.68 741.9,208.68 743.0,208.68 744.1,208.68 745.1,208.68 746.2,208.68 747.2,208.68 748.3,208.68 749.3,208.68 750.4,208.68 751.4,208.68 752.5,208.68 753.5,208.68 754.6,208.68 755.7,208.68 756.7,208.68 757.8,208.68 758.8,208.68 759.9,208.68 760.9,208.68 762.0,208.68 763.0,208.68 764.1,208.68 765.2,208.68 766.2,208.68 767.3,208.68 768.3,208.68 769.4,208.68 770.4,208.68 771.5,208.68 772.5,208.68 773.6,208.68 774.7,208.68 775.7,208.68 776.8,208.68 777.8,208.68 778.9,208.68 779.9,208.68 781.0,208.68 782.0,208.68 783.1,208.68 784.2,208.68 785.2,208.68 786.3,208.68 787.3,208.68 788.4,208.68 789.4,208.68 790.5,208.68 791.5,208.68 792.6,208.68 793.6,208.68 794.7,208.68 795.8,208.68 796.8,208.68 797.9,208.68 798.9,208.68 800.0,208.68 801.0,208.68 802.1,208.68 803.1,208.68 804.2,208.68 805.3,208.68 806.3,208.68 807.4,208.68 808.4,208.68 809.5,208.68 810.5,208.68 811.6,208.68 812.6,208.68 813.7,208.68"/>
<polyline clip-path="url(#c1)" fill="none" stroke="#000" stroke-width="1.95" stroke-linejoin="round" points="454.9,274.07 456.0,274.07 457.0,274.07 458.1,274.07 459.1,274.07 460.2,274.06 461.2,274.06 462.3,274.06 463.3,274.05 464.4,274.05 465.5,274.05 466.5,274.05 467.6,274.04 468.6,274.04 469.7,274.03 470.7,274.03 471.8,274.02 472.8,274.02 473.9,274.01 475.0,274.01 476.0,274.00 477.1,274.00 478.1,273.99 479.2,273.98 480.2,273.98 481.3,273.97 482.3,273.96 483.4,273.95 484.4,273.94 485.5,273.93 486.6,273.92 487.6,273.91 488.7,273.90 489.7,273.88 490.8,273.87 491.8,273.85 492.9,273.84 493.9,273.82 495.0,273.81 496.1,273.79 497.1,273.77 498.2,273.75 499.2,273.73 500.3,273.70 501.3,273.68 502.4,273.65 503.4,273.63 504.5,273.60 505.6,273.57 506.6,273.54 507.7,273.50 508.7,273.47 509.8,273.43 510.8,273.39 511.9,273.35 512.9,273.31 514.0,273.26 515.1,273.21 516.1,273.16 517.2,273.11 518.2,273.05 519.3,272.99 520.3,272.93 521.4,272.87 522.4,272.80 523.5,272.73 524.5,272.65 525.6,272.57 526.7,272.49 527.7,272.41 528.8,272.32 529.8,272.22 530.9,272.12 531.9,272.02 533.0,271.91 534.0,271.80 535.1,271.68 536.2,271.56 537.2,271.43 538.3,271.30 539.3,271.16 540.4,271.01 541.4,270.86 542.5,270.71 543.5,270.54 544.6,270.37 545.7,270.20 546.7,270.02 547.8,269.83 548.8,269.63 549.9,269.43 550.9,269.22 552.0,269.00 553.0,268.77 554.1,268.54 555.2,268.30 556.2,268.05 557.3,267.79 558.3,267.53 559.4,267.25 560.4,266.97 561.5,266.68 562.5,266.38 563.6,266.07 564.7,265.75 565.7,265.42 566.8,265.08 567.8,264.74 568.9,264.38 569.9,264.01 571.0,263.64 572.0,263.25 573.1,262.85 574.1,262.45 575.2,262.03 576.3,261.60 577.3,261.16 578.4,260.71 579.4,260.25 580.5,259.77 581.5,259.29 582.6,258.79 583.6,258.28 584.7,257.76 585.8,257.22 586.8,256.67 587.9,256.11 588.9,255.54 590.0,254.95 591.0,254.35 592.1,253.73 593.1,253.10 594.2,252.45 595.3,251.79 596.3,251.11 597.4,250.42 598.4,249.71 599.5,248.99 600.5,248.25 601.6,247.50 602.6,246.72 603.7,245.94 604.8,245.13 605.8,244.31 606.9,243.48 607.9,242.63 609.0,241.76 610.0,240.88 611.1,239.99 612.1,239.08 613.2,238.15 614.2,237.21 615.3,236.27 616.4,235.31 617.4,234.33 618.5,233.35 619.5,232.36 620.6,231.37 621.6,230.36 622.7,229.35 623.7,228.34 624.8,227.33 625.9,226.31 626.9,225.30 628.0,224.28 629.0,223.27 630.1,222.27 631.1,221.27 632.2,220.28 633.2,219.30 634.3,218.34 635.4,217.38 636.4,216.45 637.5,215.52 638.5,214.62 639.6,213.74 640.6,212.87 641.7,212.03 642.7,211.22 643.8,210.42 644.9,209.66 645.9,208.92 647.0,208.20 648.0,207.52 649.1,206.86 650.1,206.24 651.2,205.64 652.2,205.07 653.3,204.53 654.4,204.03 655.4,203.55 656.5,203.10 657.5,202.68 658.6,202.28 659.6,201.92 660.7,201.58 661.7,201.26 662.8,200.97 663.8,200.71 664.9,200.46 666.0,200.24 667.0,200.04 668.1,199.86 669.1,199.69 670.2,199.55 671.2,199.41 672.3,199.30 673.3,199.19 674.4,199.10 675.5,199.02 676.5,198.95 677.6,198.89 678.6,198.84 679.7,198.79 680.7,198.75 681.8,198.72 682.8,198.69 683.9,198.67 685.0,198.65 686.0,198.63 687.1,198.62 688.1,198.60 689.2,198.59 690.2,198.59 691.3,198.58 692.3,198.58 693.4,198.57 694.5,198.57 695.5,198.57 696.6,198.56 697.6,198.56 698.7,198.56 699.7,198.56 700.8,198.56 701.8,198.56 702.9,198.56 703.9,198.56 705.0,198.56 706.1,198.56 707.1,198.56 708.2,198.56 709.2,198.56 710.3,198.56 711.3,198.56 712.4,198.56 713.4,198.56 714.5,198.56 715.6,198.56 716.6,198.56 717.7,198.56 718.7,198.56 719.8,198.56 720.8,198.56 721.9,198.56 722.9,198.56 724.0,198.56 725.1,198.56 726.1,198.56 727.2,198.56 728.2,198.56 729.3,198.56 730.3,198.56 731.4,198.56 732.4,198.56 733.5,198.56 734.6,198.56 735.6,198.56 736.7,198.56 737.7,198.56 738.8,198.56 739.8,198.56 740.9,198.56 741.9,198.56 743.0,198.56 744.1,198.56 745.1,198.56 746.2,198.56 747.2,198.56 748.3,198.56 749.3,198.56 750.4,198.56 751.4,198.56 752.5,198.56 753.5,198.56 754.6,198.56 755.7,198.56 756.7,198.56 757.8,198.56 758.8,198.56 759.9,198.56 760.9,198.56 762.0,198.56 763.0,198.56 764.1,198.56 765.2,198.56 766.2,198.56 767.3,198.56 768.3,198.56 769.4,198.56 770.4,198.56 771.5,198.56 772.5,198.56 773.6,198.56 774.7,198.56 775.7,198.56 776.8,198.56 777.8,198.56 778.9,198.56 779.9,198.56 781.0,198.56 782.0,198.56 783.1,198.56 784.2,198.56 785.2,198.56 786.3,198.56 787.3,198.56 788.4,198.56 789.4,198.56 790.5,198.56 791.5,198.56 792.6,198.56 793.6,198.56 794.7,198.56 795.8,198.56 796.8,198.56 797.9,198.56 798.9,198.56 800.0,198.56 801.0,198.56 802.1,198.56 803.1,198.56 804.2,198.56 805.3,198.56 806.3,198.56 807.4,198.56 808.4,198.56 809.5,198.56 810.5,198.56 811.6,198.56 812.6,198.56 813.7,198.56"/>
<path d="M476.01 274.10v-2.70M476.01 29.55v2.70M497.11 274.10v-2.70M497.11 29.55v2.70M518.22 274.10v-5.20M518.22 29.55v5.20M539.32 274.10v-2.70M539.32 29.55v2.70M560.43 274.10v-2.70M560.43 29.55v2.70M581.54 274.10v-2.70M581.54 29.55v2.70M602.64 274.10v-2.70M602.64 29.55v2.70M623.75 274.10v-5.20M623.75 29.55v5.20M644.85 274.10v-2.70M644.85 29.55v2.70M665.96 274.10v-2.70M665.96 29.55v2.70M687.06 274.10v-2.70M687.06 29.55v2.70M708.17 274.10v-2.70M708.17 29.55v2.70M729.28 274.10v-5.20M729.28 29.55v5.20M750.38 274.10v-2.70M750.38 29.55v2.70M771.49 274.10v-2.70M771.49 29.55v2.70M792.59 274.10v-2.70M792.59 29.55v2.70M454.90 261.87h3.70M813.70 261.87h-3.70M454.90 249.65h3.70M813.70 249.65h-3.70M454.90 237.42h3.70M813.70 237.42h-3.70M454.90 225.19h3.70M813.70 225.19h-3.70M454.90 212.96h6.90M813.70 212.96h-7.30M454.90 200.74h3.70M813.70 200.74h-3.70M454.90 188.51h3.70M813.70 188.51h-3.70M454.90 176.28h3.70M813.70 176.28h-3.70M454.90 164.05h3.70M813.70 164.05h-3.70M454.90 151.83h6.90M813.70 151.83h-7.30M454.90 139.60h3.70M813.70 139.60h-3.70M454.90 127.37h3.70M813.70 127.37h-3.70M454.90 115.14h3.70M813.70 115.14h-3.70M454.90 102.92h3.70M813.70 102.92h-3.70M454.90 90.69h6.90M813.70 90.69h-7.30M454.90 78.46h3.70M813.70 78.46h-3.70M454.90 66.23h3.70M813.70 66.23h-3.70M454.90 54.01h3.70M813.70 54.01h-3.70M454.90 41.78h3.70M813.70 41.78h-3.70" fill="none" stroke="#000" stroke-width="1.9"/>
<rect x="454.90" y="29.55" width="358.80" height="244.55" rx="0.6" fill="none" stroke="#000" stroke-width="2" stroke-linejoin="round"/>
<path class="h" transform="translate(475.50 54.05) translate(0.00 0) scale(0.06250)" d="M434-134l-31 10l-22 20l-11 30l-1 22l9 29l21 23l31 12l25 0l31-12l17-17l3-6l-2-10l-5-4l-6-1l-7 3l-16 16l-21 7l-12 0l-14-7l-13-13l-8-24l96-2l7-6l2-6l0-16l-10-23l-15-15l-23-10zM408-85l16-18l12-6l22 0l8 4l7 11l-1 12l-63 0zM1609-194l-26 9l-13 11l-11 20l-2 7l1 11l3 6l8 8l9 4l5-1l6-4l9-11l0-9l-10-12l6-8l20-7l31 0l10 5l7 14l0 16l-6 13l-12 6l-27 1l-5 4l-2 10l7 8l28 1l12 6l6 6l7 20l0 23l-6 12l-7 7l-12 6l-30 0l-21-7l-6-6l10-14l0-9l-11-13l-10-3l-7 3l-9 9l-4 9l0 8l10 23l11 12l7 4l24 8l43 0l30-12l12-13l8-16l0-38l-11-20l-13-13l7-8l10-22l0-26l-9-21l-10-9l-24-8zM1453-194l-31 12l-17 17l-11 20l-10 38l0 55l9 30l20 22l31 12l25 0l27-9l22-21l11-29l1-14l-12-34l-23-21l-23-8l-15-1l-30 9l-6 5l-2-1l6-23l8-15l13-13l14-7l20 0l11 6l-10 11l-1 9l15 16l8 1l6-3l11-13l0-19l-8-16l-7-7l-21-9zM1461-101l15 7l13 13l7 19l1 8l-7 21l-15 15l-13 6l-11 0l-12-6l-15-15l-7-20l0-6l7-21l14-14zM1271-194l-29 11l-6 6l-15 23l-10 44l0 37l8 40l18 29l10 8l24 8l25 0l29-11l21-29l10-45l0-36l-8-40l-18-29l-10-8l-24-8zM1278-170l14 1l16 11l8 17l7 35l0 30l-8 38l-8 15l-18 11l-11 0l-14-7l-4-4l-9-18l-7-34l0-32l7-35l8-16l8-7zM1120-194l-10 3l-26 26l-13 6l-7 8l2 11l6 4l7 0l16-8l3 1l0 130l-24 1l-9 6l-1 10l5 6l5 2l80 0l7-3l4-6l0-6l-7-8l-27-2l0-169l-2-6zM915-194l-31 12l-17 17l-3 7l1 25l8 16l16 16l18 9l50 16l16 8l12 12l0 25l-12 12l-21 7l-22 0l-21-7l-14-14l-9-25l-6-5l-9 0l-5 4l-2 5l0 56l3 6l8 4l7-2l6-7l2-6l10 7l24 8l34 0l31-12l17-17l3-6l1-37l-2-7l-8-16l-15-15l-18-9l-47-15l-19-9l-13-13l0-7l14-13l19-6l23 0l20 7l14 14l9 25l6 5l9 0l7-8l0-58l-5-7l-8-2l-9 6l-4 9l-10-7l-24-8zM631-194l-9 8l-1 4l2 6l6 5l18 2l0 156l-20 3l-5 6l0 8l5 6l5 2l63 0l9-6l0-12l-9-6l-15-1l0-170l-2-5l-7-6zM533-193l-7 8l2 10l5 4l18 2l0 156l-18 2l-5 4l-2 10l4 6l7 3l66-1l7-8l-2-10l-5-4l-18-2l-1-173l-9-8zM186-193l-6 6l0 10l10 7l15 1l0 171l2 5l5 4l14 1l6-2l6-8l16 9l27 1l28-10l21-20l12-34l-1-23l-11-29l-22-20l-25-9l-23-1l-21 10l-1-58l-2-6l-8-6zM262-109l13 0l12 6l15 15l7 21l0 12l-7 22l-15 15l-13 6l-11 0l-12-6l-13-13l0-60l11-11zM84-194l-4 2l-6 8l-56 170l-2 2l-8 0l-7 3l-4 6l0 6l4 6l7 3l57-1l7-7l-1-10l-9-6l-19-1l9-26l60-1l9 27l-13 2l-5 4l-2 10l3 5l8 4l57-1l7-7l0-8l-5-6l-14-2l-2-3l-56-170l-7-8zM82-128l2 1l20 60l-1 3l-42-1z"/>
<text class="s" x="475.5" y="54.2">Abell S1063</text>
</g>
<g>
<clipPath id="c2"><rect x="74.90" y="288.20" width="359.00" height="246.70"/></clipPath>
<polyline clip-path="url(#c2)" fill="none" stroke="#2e3192" stroke-width="1.95" stroke-linejoin="round" points="74.9,533.87 76.0,533.87 77.0,533.87 78.1,533.86 79.1,533.86 80.2,533.86 81.2,533.86 82.3,533.85 83.3,533.85 84.4,533.85 85.5,533.84 86.5,533.84 87.6,533.84 88.6,533.83 89.7,533.83 90.7,533.82 91.8,533.82 92.9,533.81 93.9,533.81 95.0,533.80 96.0,533.79 97.1,533.79 98.1,533.78 99.2,533.77 100.2,533.77 101.3,533.76 102.4,533.75 103.4,533.74 104.5,533.73 105.5,533.72 106.6,533.71 107.6,533.70 108.7,533.69 109.7,533.67 110.8,533.66 111.9,533.65 112.9,533.63 114.0,533.62 115.0,533.60 116.1,533.58 117.1,533.57 118.2,533.55 119.2,533.53 120.3,533.51 121.4,533.48 122.4,533.46 123.5,533.44 124.5,533.41 125.6,533.39 126.6,533.36 127.7,533.33 128.8,533.30 129.8,533.27 130.9,533.24 131.9,533.20 133.0,533.17 134.0,533.13 135.1,533.09 136.1,533.05 137.2,533.01 138.3,532.96 139.3,532.92 140.4,532.87 141.4,532.82 142.5,532.77 143.5,532.72 144.6,532.67 145.6,532.61 146.7,532.55 147.8,532.49 148.8,532.43 149.9,532.37 150.9,532.30 152.0,532.24 153.0,532.17 154.1,532.10 155.1,532.02 156.2,531.95 157.3,531.87 158.3,531.80 159.4,531.72 160.4,531.64 161.5,531.55 162.5,531.47 163.6,531.39 164.7,531.30 165.7,531.21 166.8,531.12 167.8,531.03 168.9,530.94 169.9,530.85 171.0,530.76 172.0,530.67 173.1,530.58 174.2,530.48 175.2,530.39 176.3,530.30 177.3,530.21 178.4,530.11 179.4,530.02 180.5,529.93 181.5,529.84 182.6,529.75 183.7,529.66 184.7,529.58 185.8,529.49 186.8,529.41 187.9,529.33 188.9,529.25 190.0,529.17 191.0,529.09 192.1,529.02 193.2,528.95 194.2,528.88 195.3,528.81 196.3,528.75 197.4,528.69 198.4,528.63 199.5,528.58 200.5,528.52 201.6,528.47 202.7,528.42 203.7,528.38 204.8,528.34 205.8,528.30 206.9,528.26 207.9,528.23 209.0,528.19 210.1,528.16 211.1,528.14 212.2,528.11 213.2,528.09 214.3,528.07 215.3,528.05 216.4,528.03 217.4,528.01 218.5,528.00 219.6,527.99 220.6,527.98 221.7,527.97 222.7,527.96 223.8,527.95 224.8,527.94 225.9,527.94 226.9,527.93 228.0,527.93 229.1,527.92 230.1,527.92 231.2,527.92 232.2,527.92 233.3,527.91 234.3,527.91 235.4,527.91 236.4,527.91 237.5,527.91 238.6,527.91 239.6,527.91 240.7,527.91 241.7,527.91 242.8,527.91 243.8,527.91 244.9,527.91 246.0,527.91 247.0,527.91 248.1,527.91 249.1,527.91 250.2,527.90 251.2,527.90 252.3,527.90 253.3,527.90 254.4,527.90 255.5,527.90 256.5,527.90 257.6,527.90 258.6,527.90 259.7,527.90 260.7,527.90 261.8,527.90 262.8,527.90 263.9,527.90 265.0,527.90 266.0,527.90 267.1,527.90 268.1,527.90 269.2,527.90 270.2,527.90 271.3,527.90 272.4,527.90 273.4,527.90 274.5,527.90 275.5,527.90 276.6,527.90 277.6,527.90 278.7,527.90 279.7,527.90 280.8,527.90 281.9,527.90 282.9,527.90 284.0,527.90 285.0,527.90 286.1,527.90 287.1,527.90 288.2,527.90 289.2,527.90 290.3,527.90 291.4,527.90 292.4,527.90 293.5,527.90 294.5,527.90 295.6,527.90 296.6,527.90 297.7,527.90 298.7,527.90 299.8,527.90 300.9,527.90 301.9,527.90 303.0,527.90 304.0,527.90 305.1,527.90 306.1,527.90 307.2,527.90 308.2,527.90 309.3,527.90 310.4,527.90 311.4,527.90 312.5,527.90 313.5,527.90 314.6,527.90 315.6,527.90 316.7,527.90 317.8,527.90 318.8,527.90 319.9,527.90 320.9,527.90 322.0,527.90 323.0,527.90 324.1,527.90 325.1,527.90 326.2,527.90 327.3,527.90 328.3,527.90 329.4,527.90 330.4,527.90 331.5,527.90 332.5,527.90 333.6,527.90 334.6,527.90 335.7,527.90 336.8,527.90 337.8,527.90 338.9,527.90 339.9,527.90 341.0,527.90 342.0,527.90 343.1,527.90 344.1,527.90 345.2,527.90 346.3,527.90 347.3,527.90 348.4,527.90 349.4,527.90 350.5,527.90 351.5,527.90 352.6,527.90 353.7,527.90 354.7,527.90 355.8,527.90 356.8,527.90 357.9,527.90 358.9,527.90 360.0,527.90 361.0,527.90 362.1,527.90 363.2,527.90 364.2,527.90 365.3,527.90 366.3,527.90 367.4,527.90 368.4,527.90 369.5,527.90 370.5,527.90 371.6,527.90 372.7,527.90 373.7,527.90 374.8,527.90 375.8,527.90 376.9,527.90 377.9,527.90 379.0,527.90 380.1,527.90 381.1,527.90 382.2,527.90 383.2,527.90 384.3,527.90 385.3,527.90 386.4,527.90 387.4,527.90 388.5,527.90 389.6,527.90 390.6,527.90 391.7,527.90 392.7,527.90 393.8,527.90 394.8,527.90 395.9,527.90 396.9,527.90 398.0,527.90 399.1,527.90 400.1,527.90 401.2,527.90 402.2,527.90 403.3,527.90 404.3,527.90 405.4,527.90 406.4,527.90 407.5,527.90 408.6,527.90 409.6,527.90 410.7,527.90 411.7,527.90 412.8,527.90 413.8,527.90 414.9,527.90 416.0,527.90 417.0,527.90 418.1,527.90 419.1,527.90 420.2,527.90 421.2,527.90 422.3,527.90 423.3,527.90 424.4,527.90 425.5,527.90 426.5,527.90 427.6,527.90 428.6,527.90 429.7,527.90 430.7,527.90 431.8,527.90 432.8,527.90 433.9,527.90"/>
<polyline clip-path="url(#c2)" fill="none" stroke="#ed1c24" stroke-width="1.95" stroke-linejoin="round" points="74.9,533.90 76.0,533.90 77.0,533.90 78.1,533.90 79.1,533.89 80.2,533.89 81.2,533.89 82.3,533.89 83.3,533.89 84.4,533.89 85.5,533.89 86.5,533.89 87.6,533.89 88.6,533.89 89.7,533.89 90.7,533.89 91.8,533.89 92.9,533.89 93.9,533.89 95.0,533.89 96.0,533.89 97.1,533.88 98.1,533.88 99.2,533.88 100.2,533.88 101.3,533.88 102.4,533.88 103.4,533.88 104.5,533.88 105.5,533.87 106.6,533.87 107.6,533.87 108.7,533.87 109.7,533.87 110.8,533.86 111.9,533.86 112.9,533.86 114.0,533.86 115.0,533.85 116.1,533.85 117.1,533.85 118.2,533.84 119.2,533.84 120.3,533.83 121.4,533.83 122.4,533.82 123.5,533.82 124.5,533.81 125.6,533.81 126.6,533.80 127.7,533.80 128.8,533.79 129.8,533.78 130.9,533.77 131.9,533.77 133.0,533.76 134.0,533.75 135.1,533.74 136.1,533.73 137.2,533.72 138.3,533.70 139.3,533.69 140.4,533.68 141.4,533.66 142.5,533.65 143.5,533.63 144.6,533.61 145.6,533.60 146.7,533.58 147.8,533.56 148.8,533.53 149.9,533.51 150.9,533.49 152.0,533.46 153.0,533.43 154.1,533.41 155.1,533.37 156.2,533.34 157.3,533.31 158.3,533.27 159.4,533.23 160.4,533.19 161.5,533.15 162.5,533.10 163.6,533.06 164.7,533.01 165.7,532.95 166.8,532.90 167.8,532.84 168.9,532.77 169.9,532.71 171.0,532.64 172.0,532.57 173.1,532.49 174.2,532.41 175.2,532.32 176.3,532.23 177.3,532.14 178.4,532.04 179.4,531.94 180.5,531.83 181.5,531.71 182.6,531.60 183.7,531.47 184.7,531.34 185.8,531.20 186.8,531.06 187.9,530.91 188.9,530.75 190.0,530.59 191.0,530.42 192.1,530.24 193.2,530.05 194.2,529.86 195.3,529.66 196.3,529.45 197.4,529.23 198.4,529.01 199.5,528.77 200.5,528.53 201.6,528.28 202.7,528.02 203.7,527.75 204.8,527.47 205.8,527.18 206.9,526.88 207.9,526.58 209.0,526.26 210.1,525.93 211.1,525.60 212.2,525.26 213.2,524.90 214.3,524.54 215.3,524.17 216.4,523.79 217.4,523.40 218.5,523.01 219.6,522.60 220.6,522.19 221.7,521.77 222.7,521.35 223.8,520.91 224.8,520.48 225.9,520.03 226.9,519.59 228.0,519.13 229.1,518.68 230.1,518.22 231.2,517.75 232.2,517.29 233.3,516.82 234.3,516.36 235.4,515.89 236.4,515.43 237.5,514.97 238.6,514.51 239.6,514.05 240.7,513.60 241.7,513.15 242.8,512.71 243.8,512.27 244.9,511.84 246.0,511.42 247.0,511.01 248.1,510.61 249.1,510.22 250.2,509.83 251.2,509.46 252.3,509.10 253.3,508.76 254.4,508.42 255.5,508.10 256.5,507.79 257.6,507.49 258.6,507.21 259.7,506.94 260.7,506.69 261.8,506.45 262.8,506.22 263.9,506.00 265.0,505.80 266.0,505.61 267.1,505.44 268.1,505.28 269.2,505.12 270.2,504.99 271.3,504.86 272.4,504.74 273.4,504.63 274.5,504.53 275.5,504.45 276.6,504.37 277.6,504.29 278.7,504.23 279.7,504.17 280.8,504.12 281.9,504.07 282.9,504.03 284.0,504.00 285.0,503.97 286.1,503.94 287.1,503.92 288.2,503.90 289.2,503.88 290.3,503.87 291.4,503.86 292.4,503.85 293.5,503.84 294.5,503.83 295.6,503.83 296.6,503.82 297.7,503.82 298.7,503.81 299.8,503.81 300.9,503.81 301.9,503.81 303.0,503.81 304.0,503.81 305.1,503.80 306.1,503.80 307.2,503.80 308.2,503.80 309.3,503.80 310.4,503.80 311.4,503.80 312.5,503.80 313.5,503.80 314.6,503.80 315.6,503.80 316.7,503.80 317.8,503.80 318.8,503.80 319.9,503.80 320.9,503.80 322.0,503.80 323.0,503.80 324.1,503.80 325.1,503.80 326.2,503.80 327.3,503.80 328.3,503.80 329.4,503.80 330.4,503.80 331.5,503.80 332.5,503.80 333.6,503.80 334.6,503.80 335.7,503.80 336.8,503.80 337.8,503.80 338.9,503.80 339.9,503.80 341.0,503.80 342.0,503.80 343.1,503.80 344.1,503.80 345.2,503.80 346.3,503.80 347.3,503.80 348.4,503.80 349.4,503.80 350.5,503.80 351.5,503.80 352.6,503.80 353.7,503.80 354.7,503.80 355.8,503.80 356.8,503.80 357.9,503.80 358.9,503.80 360.0,503.80 361.0,503.80 362.1,503.80 363.2,503.80 364.2,503.80 365.3,503.80 366.3,503.80 367.4,503.80 368.4,503.80 369.5,503.80 370.5,503.80 371.6,503.80 372.7,503.80 373.7,503.80 374.8,503.80 375.8,503.80 376.9,503.80 377.9,503.80 379.0,503.80 380.1,503.80 381.1,503.80 382.2,503.80 383.2,503.80 384.3,503.80 385.3,503.80 386.4,503.80 387.4,503.80 388.5,503.80 389.6,503.80 390.6,503.80 391.7,503.80 392.7,503.80 393.8,503.80 394.8,503.80 395.9,503.80 396.9,503.80 398.0,503.80 399.1,503.80 400.1,503.80 401.2,503.80 402.2,503.80 403.3,503.80 404.3,503.80 405.4,503.80 406.4,503.80 407.5,503.80 408.6,503.80 409.6,503.80 410.7,503.80 411.7,503.80 412.8,503.80 413.8,503.80 414.9,503.80 416.0,503.80 417.0,503.80 418.1,503.80 419.1,503.80 420.2,503.80 421.2,503.80 422.3,503.80 423.3,503.80 424.4,503.80 425.5,503.80 426.5,503.80 427.6,503.80 428.6,503.80 429.7,503.80 430.7,503.80 431.8,503.80 432.8,503.80 433.9,503.80"/>
<polyline clip-path="url(#c2)" fill="none" stroke="#000" stroke-width="1.95" stroke-linejoin="round" points="74.9,533.87 76.0,533.86 77.0,533.86 78.1,533.86 79.1,533.86 80.2,533.85 81.2,533.85 82.3,533.85 83.3,533.84 84.4,533.84 85.5,533.84 86.5,533.83 87.6,533.83 88.6,533.82 89.7,533.82 90.7,533.81 91.8,533.81 92.9,533.80 93.9,533.79 95.0,533.79 96.0,533.78 97.1,533.77 98.1,533.76 99.2,533.76 100.2,533.75 101.3,533.74 102.4,533.73 103.4,533.72 104.5,533.71 105.5,533.69 106.6,533.68 107.6,533.67 108.7,533.65 109.7,533.64 110.8,533.62 111.9,533.61 112.9,533.59 114.0,533.57 115.0,533.55 116.1,533.53 117.1,533.51 118.2,533.49 119.2,533.46 120.3,533.44 121.4,533.41 122.4,533.39 123.5,533.36 124.5,533.33 125.6,533.29 126.6,533.26 127.7,533.23 128.8,533.19 129.8,533.15 130.9,533.11 131.9,533.07 133.0,533.02 134.0,532.98 135.1,532.93 136.1,532.88 137.2,532.82 138.3,532.77 139.3,532.71 140.4,532.65 141.4,532.59 142.5,532.52 143.5,532.45 144.6,532.38 145.6,532.31 146.7,532.23 147.8,532.15 148.8,532.07 149.9,531.98 150.9,531.89 152.0,531.80 153.0,531.70 154.1,531.60 155.1,531.50 156.2,531.39 157.3,531.28 158.3,531.17 159.4,531.05 160.4,530.93 161.5,530.80 162.5,530.68 163.6,530.54 164.7,530.41 165.7,530.26 166.8,530.12 167.8,529.97 168.9,529.82 169.9,529.66 171.0,529.50 172.0,529.34 173.1,529.17 174.2,528.99 175.2,528.81 176.3,528.63 177.3,528.45 178.4,528.26 179.4,528.06 180.5,527.86 181.5,527.66 182.6,527.45 183.7,527.24 184.7,527.02 185.8,526.80 186.8,526.57 187.9,526.34 188.9,526.10 190.0,525.86 191.0,525.61 192.1,525.36 193.2,525.10 194.2,524.84 195.3,524.57 196.3,524.30 197.4,524.02 198.4,523.74 199.5,523.45 200.5,523.15 201.6,522.85 202.7,522.54 203.7,522.23 204.8,521.91 205.8,521.58 206.9,521.24 207.9,520.90 209.0,520.55 210.1,520.20 211.1,519.84 212.2,519.47 213.2,519.09 214.3,518.71 215.3,518.32 216.4,517.92 217.4,517.52 218.5,517.11 219.6,516.69 220.6,516.27 221.7,515.84 222.7,515.40 223.8,514.96 224.8,514.52 225.9,514.07 226.9,513.62 228.0,513.16 229.1,512.70 230.1,512.24 231.2,511.77 232.2,511.31 233.3,510.84 234.3,510.37 235.4,509.90 236.4,509.44 237.5,508.97 238.6,508.51 239.6,508.06 240.7,507.60 241.7,507.16 242.8,506.71 243.8,506.28 244.9,505.85 246.0,505.43 247.0,505.02 248.1,504.61 249.1,504.22 250.2,503.84 251.2,503.47 252.3,503.11 253.3,502.76 254.4,502.43 255.5,502.10 256.5,501.80 257.6,501.50 258.6,501.22 259.7,500.95 260.7,500.69 261.8,500.45 262.8,500.22 263.9,500.01 265.0,499.81 266.0,499.62 267.1,499.44 268.1,499.28 269.2,499.13 270.2,498.99 271.3,498.86 272.4,498.74 273.4,498.64 274.5,498.54 275.5,498.45 276.6,498.37 277.6,498.30 278.7,498.23 279.7,498.18 280.8,498.12 281.9,498.08 282.9,498.04 284.0,498.00 285.0,497.97 286.1,497.95 287.1,497.92 288.2,497.91 289.2,497.89 290.3,497.87 291.4,497.86 292.4,497.85 293.5,497.84 294.5,497.84 295.6,497.83 296.6,497.83 297.7,497.82 298.7,497.82 299.8,497.82 300.9,497.81 301.9,497.81 303.0,497.81 304.0,497.81 305.1,497.81 306.1,497.81 307.2,497.81 308.2,497.81 309.3,497.81 310.4,497.81 311.4,497.81 312.5,497.81 313.5,497.81 314.6,497.81 315.6,497.81 316.7,497.81 317.8,497.81 318.8,497.81 319.9,497.81 320.9,497.81 322.0,497.81 323.0,497.81 324.1,497.81 325.1,497.81 326.2,497.81 327.3,497.81 328.3,497.81 329.4,497.81 330.4,497.81 331.5,497.81 332.5,497.81 333.6,497.81 334.6,497.81 335.7,497.81 336.8,497.81 337.8,497.81 338.9,497.81 339.9,497.81 341.0,497.81 342.0,497.81 343.1,497.81 344.1,497.81 345.2,497.81 346.3,497.81 347.3,497.81 348.4,497.81 349.4,497.81 350.5,497.81 351.5,497.81 352.6,497.81 353.7,497.81 354.7,497.81 355.8,497.81 356.8,497.81 357.9,497.81 358.9,497.81 360.0,497.81 361.0,497.81 362.1,497.81 363.2,497.81 364.2,497.81 365.3,497.81 366.3,497.81 367.4,497.81 368.4,497.81 369.5,497.81 370.5,497.81 371.6,497.81 372.7,497.81 373.7,497.81 374.8,497.81 375.8,497.81 376.9,497.81 377.9,497.81 379.0,497.81 380.1,497.81 381.1,497.81 382.2,497.81 383.2,497.81 384.3,497.81 385.3,497.81 386.4,497.81 387.4,497.81 388.5,497.81 389.6,497.81 390.6,497.81 391.7,497.81 392.7,497.81 393.8,497.81 394.8,497.81 395.9,497.81 396.9,497.81 398.0,497.81 399.1,497.81 400.1,497.81 401.2,497.81 402.2,497.81 403.3,497.81 404.3,497.81 405.4,497.81 406.4,497.81 407.5,497.81 408.6,497.81 409.6,497.81 410.7,497.81 411.7,497.81 412.8,497.81 413.8,497.81 414.9,497.81 416.0,497.81 417.0,497.81 418.1,497.81 419.1,497.81 420.2,497.81 421.2,497.81 422.3,497.81 423.3,497.81 424.4,497.81 425.5,497.81 426.5,497.81 427.6,497.81 428.6,497.81 429.7,497.81 430.7,497.81 431.8,497.81 432.8,497.81 433.9,497.81"/>
<path d="M96.02 533.90v-2.70M96.02 289.20v2.70M117.14 533.90v-2.70M117.14 289.20v2.70M138.25 533.90v-5.20M138.25 289.20v5.20M159.37 533.90v-2.70M159.37 289.20v2.70M180.49 533.90v-2.70M180.49 289.20v2.70M201.61 533.90v-2.70M201.61 289.20v2.70M222.72 533.90v-2.70M222.72 289.20v2.70M243.84 533.90v-5.20M243.84 289.20v5.20M264.96 533.90v-2.70M264.96 289.20v2.70M286.08 533.90v-2.70M286.08 289.20v2.70M307.19 533.90v-2.70M307.19 289.20v2.70M328.31 533.90v-2.70M328.31 289.20v2.70M349.43 533.90v-5.20M349.43 289.20v5.20M370.55 533.90v-2.70M370.55 289.20v2.70M391.66 533.90v-2.70M391.66 289.20v2.70M412.78 533.90v-2.70M412.78 289.20v2.70M74.90 521.66h3.70M433.90 521.66h-3.70M74.90 509.43h3.70M433.90 509.43h-3.70M74.90 497.19h3.70M433.90 497.19h-3.70M74.90 484.96h3.70M433.90 484.96h-3.70M74.90 472.72h6.90M433.90 472.72h-7.30M74.90 460.49h3.70M433.90 460.49h-3.70M74.90 448.25h3.70M433.90 448.25h-3.70M74.90 436.02h3.70M433.90 436.02h-3.70M74.90 423.78h3.70M433.90 423.78h-3.70M74.90 411.55h6.90M433.90 411.55h-7.30M74.90 399.31h3.70M433.90 399.31h-3.70M74.90 387.08h3.70M433.90 387.08h-3.70M74.90 374.85h3.70M433.90 374.85h-3.70M74.90 362.61h3.70M433.90 362.61h-3.70M74.90 350.38h6.90M433.90 350.38h-7.30M74.90 338.14h3.70M433.90 338.14h-3.70M74.90 325.90h3.70M433.90 325.90h-3.70M74.90 313.67h3.70M433.90 313.67h-3.70M74.90 301.44h3.70M433.90 301.44h-3.70" fill="none" stroke="#000" stroke-width="1.9"/>
<rect x="74.90" y="289.20" width="359.00" height="244.70" rx="0.6" fill="none" stroke="#000" stroke-width="2" stroke-linejoin="round"/>
<path class="h" transform="translate(95.50 313.70) translate(0.00 0) scale(0.06250)" d="M434-134l-31 10l-22 20l-11 30l-1 22l9 29l21 23l31 12l25 0l31-12l17-17l3-6l-2-10l-5-4l-6-1l-7 3l-16 16l-21 7l-12 0l-14-7l-13-13l-8-24l96-2l7-6l2-6l0-16l-10-23l-15-15l-23-10zM408-85l16-18l12-6l22 0l8 4l7 11l-1 12l-63 0zM1486-194l-6 0l-9 7l-91 124l-4 8l2 10l9 5l74 0l1 27l-18 2l-7 7l1 10l9 6l63 0l5-2l5-6l0-8l-7-7l-18-2l0-26l32-1l8-4l3-5l0-6l-7-8l-36-2l0-119l-2-5zM1461-131l1 66l-49 1l1-4zM1312-194l-8 1l-5 4l-94 128l-3 9l2 6l9 6l74 0l2 2l0 24l-2 2l-17 1l-5 4l-2 5l2 9l9 5l62 0l6-2l5-7l-2-10l-5-4l-18-2l0-26l32-1l5-2l5-6l0-8l-7-7l-35-2l0-117l-2-6zM1288-132l1 66l-2 2l-47 0l-1-2zM1174-194l-10 2l-16 24l-8 0l-41-25l-25-1l-7 3l-6 6l-5-7l-8-2l-5 2l-5 6l-1 56l2 6l6 5l9 0l5-4l3-8l0-15l4-8l11-7l15 0l38 16l23 2l-2 7l-41 41l-12 22l-9 29l0 44l2 6l6 5l14 1l9-6l2-5l0-42l7-22l10-19l35-44l9-30l0-27l-2-5zM891-186l-15 12l-11 20l-1 17l3 7l8 8l9 4l5-1l13-11l3-11l-11-16l8-7l19-6l30 0l12 6l8 8l5 10l0 14l-8 13l-18 12l-53 26l-21 20l-12 31l1 35l6 6l6 1l5-2l5-6l1-16l2-2l8 0l38 23l8 3l40-1l16-15l9-19l0-23l-5-7l-4-2l-8 1l-7 10l0 13l-16 10l-22 0l-36-15l-17-2l-1-2l2-5l15-15l60-25l25-17l5-6l9-19l-1-27l-8-16l-11-12l-31-12l-43 0zM631-194l-9 8l-1 4l2 6l6 5l18 2l0 156l-20 3l-5 6l0 8l5 6l5 2l63 0l9-6l0-12l-9-6l-15-1l0-170l-2-5l-7-6zM533-193l-7 8l2 10l5 4l18 2l0 156l-18 2l-5 4l-2 10l4 6l7 3l66-1l7-8l-2-10l-5-4l-18-2l-1-173l-9-8zM186-193l-6 6l0 10l10 7l15 1l0 171l2 5l5 4l14 1l6-2l6-8l16 9l27 1l28-10l21-20l12-34l-1-23l-11-29l-22-20l-25-9l-23-1l-21 10l-1-58l-2-6l-8-6zM262-109l13 0l12 6l15 15l7 21l0 12l-7 22l-15 15l-13 6l-11 0l-12-6l-13-13l0-60l11-11zM84-194l-4 2l-6 8l-56 170l-2 2l-8 0l-7 3l-4 6l0 6l4 6l7 3l57-1l7-7l-1-10l-9-6l-19-1l9-26l60-1l9 27l-13 2l-5 4l-2 10l3 5l8 4l57-1l7-7l0-8l-5-6l-14-2l-2-3l-56-170l-7-8zM82-128l2 1l20 60l-1 3l-42-1z"/>
<text class="s" x="95.5" y="313.9">Abell 2744</text>
<path class="h" transform="translate(68.40 533.40) translate(-37.12 0) scale(0.06250)" d="M213-29l-14 12l-3 8l3 9l13 11l6 1l7-3l9-9l3-5l0-7l-11-14l-6-3zM507-194l-27 10l-5 4l-19 30l-9 46l0 26l9 46l19 30l9 6l24 8l25 0l29-11l21-29l10-46l0-34l-10-46l-16-24l-10-8l-24-8zM515-170l11 0l12 6l8 8l7 15l7 35l0 29l-8 39l-6 12l-8 8l-12 6l-14-1l-11-6l-7-8l-6-13l-8-42l0-18l9-45l6-12l7-7zM334-194l-24 8l-6 4l-19 27l-11 48l0 32l9 43l18 29l7 6l26 9l25 0l28-10l5-4l17-25l10-44l1-33l-9-46l-18-29l-7-6l-26-9zM341-170l12 0l12 6l7 7l7 14l8 41l0 22l-9 43l-6 12l-7 7l-13 6l-11 0l-12-6l-7-7l-7-14l-8-39l0-27l9-41l6-11l7-7zM74-194l-29 11l-19 26l-4 9l-8 40l0 34l8 40l18 30l10 8l24 8l25 0l24-8l9-6l19-30l9-46l0-26l-9-46l-19-30l-9-6l-23-8zM81-170l12 0l12 6l7 7l7 15l8 41l0 20l-9 44l-5 10l-7 8l-14 7l-11 0l-12-6l-8-8l-6-12l-8-39l0-28l8-39l6-12l8-8z"/>
<text class="s" text-anchor="end" x="68" y="533.40">0.00</text>
<path class="h" transform="translate(68.40 479.52) translate(-37.12 0) scale(0.06250)" d="M213-29l-14 12l-3 8l3 9l13 11l6 1l7-3l9-9l3-5l0-7l-11-14l-6-3zM474-194l-7 5l-3 7l-16 80l0 10l2 4l6 4l8 0l21-19l18-6l24 0l12 6l14 14l7 20l0 16l-7 20l-15 15l-12 6l-21 0l-21-7l-6-8l10-12l0-9l-11-13l-8-3l-9 3l-11 12l-2 6l2 15l8 16l11 12l31 12l34 0l24-8l7-4l17-17l12-31l0-25l-9-26l-20-22l-6-4l-24-8l-31-1l-21 7l-3-1l7-33l34 0l43-8l11-7l2-6l-1-4l-8-8zM334-194l-24 8l-6 4l-19 27l-11 48l0 32l9 43l18 29l7 6l26 9l25 0l28-10l5-4l17-25l10-44l1-33l-9-46l-18-29l-7-6l-26-9zM341-170l12 0l12 6l7 7l7 14l8 41l0 22l-9 43l-6 12l-7 7l-13 6l-11 0l-12-6l-7-7l-7-14l-8-39l0-27l9-41l6-11l7-7zM74-194l-29 11l-19 26l-4 9l-8 40l0 34l8 40l18 30l10 8l24 8l25 0l24-8l9-6l19-30l9-46l0-26l-9-46l-19-30l-9-6l-23-8zM81-170l12 0l12 6l7 7l7 15l8 41l0 20l-9 44l-5 10l-7 8l-14 7l-11 0l-12-6l-8-8l-6-12l-8-39l0-28l8-39l6-12l8-8z"/>
<text class="s" text-anchor="end" x="68" y="479.52">0.05</text>
<path class="h" transform="translate(68.40 418.35) translate(-37.12 0) scale(0.06250)" d="M213-29l-14 12l-3 8l3 9l13 11l6 1l7-3l9-9l3-5l0-7l-11-14l-6-3zM507-194l-27 10l-5 4l-19 30l-9 46l0 26l9 46l19 30l9 6l24 8l25 0l29-11l21-29l10-46l0-34l-10-46l-16-24l-10-8l-24-8zM515-170l11 0l12 6l8 8l7 15l7 35l0 29l-8 39l-6 12l-8 8l-12 6l-14-1l-11-6l-7-8l-6-13l-8-42l0-18l9-45l6-12l7-7zM357-194l-10 3l-26 26l-13 6l-7 8l1 10l7 5l7 0l16-8l3 1l0 130l-24 1l-9 6l-1 10l5 6l5 2l80 0l8-4l3-6l-2-9l-5-4l-27-2l0-169l-2-6zM74-194l-29 11l-19 26l-4 9l-8 40l0 34l8 40l18 30l10 8l24 8l25 0l24-8l9-6l19-30l9-46l0-26l-9-46l-19-30l-9-6l-23-8zM81-170l12 0l12 6l7 7l7 15l8 41l0 20l-9 44l-5 10l-7 8l-14 7l-11 0l-12-6l-8-8l-6-12l-8-39l0-28l8-39l6-12l8-8z"/>
<text class="s" text-anchor="end" x="68" y="418.35">0.10</text>
<path class="h" transform="translate(68.40 357.18) translate(-37.12 0) scale(0.06250)" d="M213-29l-14 12l-3 8l3 9l13 11l6 1l7-3l9-9l3-5l0-7l-11-14l-6-3zM474-194l-7 5l-3 7l-16 80l0 10l2 4l6 4l8 0l21-19l18-6l24 0l12 6l14 14l7 20l0 16l-7 20l-15 15l-12 6l-21 0l-21-7l-6-8l10-12l0-9l-11-13l-8-3l-9 3l-11 12l-2 6l2 15l8 16l11 12l31 12l34 0l24-8l7-4l17-17l12-31l0-25l-9-26l-20-22l-6-4l-24-8l-31-1l-21 7l-3-1l7-33l34 0l43-8l11-7l2-6l-1-4l-8-8zM357-194l-10 3l-26 26l-13 6l-7 8l1 10l7 5l7 0l16-8l3 1l0 130l-24 1l-9 6l-1 10l5 6l5 2l80 0l8-4l3-6l-2-9l-5-4l-27-2l0-169l-2-6zM74-194l-29 11l-19 26l-4 9l-8 40l0 34l8 40l18 30l10 8l24 8l25 0l24-8l9-6l19-30l9-46l0-26l-9-46l-19-30l-9-6l-23-8zM81-170l12 0l12 6l7 7l7 15l8 41l0 20l-9 44l-5 10l-7 8l-14 7l-11 0l-12-6l-8-8l-6-12l-8-39l0-28l8-39l6-12l8-8z"/>
<text class="s" text-anchor="end" x="68" y="357.18">0.15</text>
<path class="h" transform="translate(68.40 301.20) translate(-37.12 0) scale(0.06250)" d="M213-29l-14 12l-3 8l3 9l13 11l6 1l7-3l9-9l3-5l0-7l-11-14l-6-3zM507-194l-27 10l-5 4l-19 30l-9 46l0 26l9 46l19 30l9 6l24 8l25 0l29-11l21-29l10-46l0-34l-10-46l-16-24l-10-8l-24-8zM515-170l11 0l12 6l8 8l7 15l7 35l0 29l-8 39l-6 12l-8 8l-12 6l-14-1l-11-6l-7-8l-6-13l-8-42l0-18l9-45l6-12l7-7zM302-186l-7 4l-9 9l-11 20l0 18l2 5l10 9l8 3l4-1l13-11l3-5l0-7l-3-6l-8-8l5-6l22-8l30 0l11 5l8 7l7 14l0 11l-9 14l-23 15l-52 26l-17 17l-11 29l0 36l7 7l9 0l5-4l2-5l0-14l2-2l9 0l42 25l44 0l13-11l11-22l1-21l-2-6l-5-5l-11 0l-5 5l-2 6l0 12l-16 10l-22 0l-38-16l-14-1l-1-4l16-18l56-23l28-18l6-6l9-19l1-22l-12-25l-9-9l-31-12l-43 0zM74-194l-29 11l-19 26l-4 9l-8 40l0 34l8 40l18 30l10 8l24 8l25 0l24-8l9-6l19-30l9-46l0-26l-9-46l-19-30l-9-6l-23-8zM81-170l12 0l12 6l7 7l7 15l8 41l0 20l-9 44l-5 10l-7 8l-14 7l-11 0l-12-6l-8-8l-6-12l-8-39l0-28l8-39l6-12l8-8z"/>
<text class="s" text-anchor="end" x="68" y="301.20">0.20</text>
<path class="h" transform="translate(137.35 558.20) translate(-10.84 0) scale(0.06250)" d="M247-194l-26 9l-7 6l-16 24l-10 44l-1 33l9 46l19 30l9 6l24 8l25 0l26-9l7-6l16-24l3-7l8-40l0-34l-8-40l-18-30l-10-8l-24-8zM254-170l12 0l12 6l8 8l7 16l7 35l0 28l-9 41l-5 10l-8 8l-12 6l-14-1l-10-5l-7-7l-7-15l-8-40l0-22l9-43l6-12l7-7zM41-186l-18 17l-9 21l0 10l3 8l13 11l5 1l9-4l8-8l3-6l0-6l-11-13l1-3l5-5l21-7l30 0l12 6l6 5l7 13l1 12l-5 11l-22 16l-51 25l-23 21l-12 31l1 34l7 7l5 1l5-2l6-9l0-13l2-2l8 0l43 25l43 0l14-11l11-22l1-21l-2-6l-5-5l-11 0l-6 7l-1 16l-16 10l-22 0l-38-16l-16-2l2-6l15-15l60-25l25-17l6-7l9-21l0-17l-2-7l-10-19l-9-9l-31-12l-43 0z"/>
<text class="s" text-anchor="middle" x="138.25" y="558.2">20</text>
<path class="h" transform="translate(242.94 558.20) translate(-10.84 0) scale(0.06250)" d="M214-194l-7 5l-3 7l-16 80l1 13l6 5l8 0l22-19l18-6l24 0l13 7l13 13l7 21l0 15l-7 20l-15 15l-12 6l-21 0l-21-7l-7-7l9-9l2-4l0-8l-2-5l-9-9l-8-3l-9 3l-11 12l-2 6l2 15l10 19l9 9l31 12l34 0l26-9l22-20l11-29l0-30l-11-28l-23-21l-24-8l-31-1l-24 8l-1-2l8-33l34 0l46-9l8-6l1-10l-9-8zM41-186l-18 17l-9 21l0 10l3 8l13 11l5 1l9-4l8-8l3-6l0-6l-11-13l1-3l5-5l21-7l30 0l12 6l6 5l7 13l1 12l-5 11l-22 16l-51 25l-23 21l-12 31l1 34l7 7l5 1l5-2l6-9l0-13l2-2l8 0l43 25l43 0l14-11l11-22l1-21l-2-6l-5-5l-11 0l-6 7l-1 16l-16 10l-22 0l-38-16l-16-2l2-6l15-15l60-25l25-17l6-7l9-21l0-17l-2-7l-10-19l-9-9l-31-12l-43 0z"/>
<text class="s" text-anchor="middle" x="243.84" y="558.2">25</text>
<path class="h" transform="translate(348.53 558.20) translate(-10.84 0) scale(0.06250)" d="M247-194l-26 9l-7 6l-16 24l-10 44l-1 33l9 46l19 30l9 6l24 8l25 0l26-9l7-6l16-24l3-7l8-40l0-34l-8-40l-18-30l-10-8l-24-8zM254-170l12 0l12 6l8 8l7 16l7 35l0 28l-9 41l-5 10l-8 8l-12 6l-14-1l-10-5l-7-7l-7-15l-8-40l0-22l9-43l6-12l7-7zM65-194l-26 9l-13 12l-11 20l0 19l2 4l13 11l9 0l13-11l3-6l-2-10l-9-9l6-8l21-7l30 0l10 5l7 12l0 20l-5 10l-12 7l-27 1l-6 5l-2 7l2 5l6 5l27 1l17 10l9 25l0 18l-6 13l-8 8l-12 6l-30 0l-18-6l-8-6l-1-3l11-13l0-6l-3-6l-9-9l-9-3l-8 3l-9 9l-3 8l1 15l8 16l16 16l29 9l40 0l31-12l11-12l10-23l0-26l-12-25l-14-14l7-7l9-18l0-37l-9-17l-9-7l-24-8z"/>
<text class="s" text-anchor="middle" x="349.43" y="558.2">30</text>
</g>
<g>
<clipPath id="c3"><rect x="454.90" y="288.20" width="358.80" height="246.70"/></clipPath>
<polyline clip-path="url(#c3)" fill="none" stroke="#2e3192" stroke-width="1.95" stroke-linejoin="round" points="454.9,533.87 456.0,533.87 457.0,533.87 458.1,533.87 459.1,533.87 460.2,533.86 461.2,533.86 462.3,533.86 463.3,533.85 464.4,533.85 465.5,533.85 466.5,533.84 467.6,533.84 468.6,533.84 469.7,533.83 470.7,533.83 471.8,533.82 472.8,533.82 473.9,533.81 475.0,533.81 476.0,533.80 477.1,533.79 478.1,533.79 479.2,533.78 480.2,533.77 481.3,533.76 482.3,533.75 483.4,533.74 484.4,533.73 485.5,533.72 486.6,533.71 487.6,533.70 488.7,533.69 489.7,533.67 490.8,533.66 491.8,533.64 492.9,533.62 493.9,533.61 495.0,533.59 496.1,533.57 497.1,533.55 498.2,533.52 499.2,533.50 500.3,533.47 501.3,533.45 502.4,533.42 503.4,533.39 504.5,533.35 505.6,533.32 506.6,533.28 507.7,533.24 508.7,533.20 509.8,533.16 510.8,533.11 511.9,533.07 512.9,533.02 514.0,532.96 515.1,532.90 516.1,532.84 517.2,532.78 518.2,532.71 519.3,532.64 520.3,532.56 521.4,532.48 522.4,532.40 523.5,532.31 524.5,532.22 525.6,532.12 526.7,532.02 527.7,531.91 528.8,531.79 529.8,531.67 530.9,531.54 531.9,531.41 533.0,531.27 534.0,531.12 535.1,530.97 536.2,530.81 537.2,530.64 538.3,530.46 539.3,530.27 540.4,530.08 541.4,529.87 542.5,529.66 543.5,529.43 544.6,529.20 545.7,528.96 546.7,528.70 547.8,528.44 548.8,528.16 549.9,527.87 550.9,527.57 552.0,527.26 553.0,526.94 554.1,526.60 555.2,526.25 556.2,525.89 557.3,525.51 558.3,525.12 559.4,524.72 560.4,524.31 561.5,523.88 562.5,523.43 563.6,522.98 564.7,522.51 565.7,522.02 566.8,521.52 567.8,521.01 568.9,520.49 569.9,519.95 571.0,519.40 572.0,518.83 573.1,518.25 574.1,517.67 575.2,517.06 576.3,516.45 577.3,515.83 578.4,515.20 579.4,514.56 580.5,513.90 581.5,513.25 582.6,512.58 583.6,511.91 584.7,511.23 585.8,510.55 586.8,509.86 587.9,509.17 588.9,508.48 590.0,507.79 591.0,507.10 592.1,506.41 593.1,505.72 594.2,505.04 595.3,504.37 596.3,503.70 597.4,503.03 598.4,502.38 599.5,501.73 600.5,501.10 601.6,500.48 602.6,499.87 603.7,499.27 604.8,498.69 605.8,498.13 606.9,497.58 607.9,497.05 609.0,496.53 610.0,496.04 611.1,495.56 612.1,495.11 613.2,494.67 614.2,494.25 615.3,493.86 616.4,493.48 617.4,493.13 618.5,492.79 619.5,492.47 620.6,492.18 621.6,491.90 622.7,491.64 623.7,491.40 624.8,491.18 625.9,490.97 626.9,490.79 628.0,490.61 629.0,490.46 630.1,490.31 631.1,490.18 632.2,490.06 633.2,489.96 634.3,489.86 635.4,489.78 636.4,489.71 637.5,489.64 638.5,489.58 639.6,489.53 640.6,489.49 641.7,489.45 642.7,489.41 643.8,489.39 644.9,489.36 645.9,489.34 647.0,489.32 648.0,489.31 649.1,489.30 650.1,489.29 651.2,489.28 652.2,489.27 653.3,489.26 654.4,489.26 655.4,489.26 656.5,489.25 657.5,489.25 658.6,489.25 659.6,489.25 660.7,489.25 661.7,489.24 662.8,489.24 663.8,489.24 664.9,489.24 666.0,489.24 667.0,489.24 668.1,489.24 669.1,489.24 670.2,489.24 671.2,489.24 672.3,489.24 673.3,489.24 674.4,489.24 675.5,489.24 676.5,489.24 677.6,489.24 678.6,489.24 679.7,489.24 680.7,489.24 681.8,489.24 682.8,489.24 683.9,489.24 685.0,489.24 686.0,489.24 687.1,489.24 688.1,489.24 689.2,489.24 690.2,489.24 691.3,489.24 692.3,489.24 693.4,489.24 694.5,489.24 695.5,489.24 696.6,489.24 697.6,489.24 698.7,489.24 699.7,489.24 700.8,489.24 701.8,489.24 702.9,489.24 703.9,489.24 705.0,489.24 706.1,489.24 707.1,489.24 708.2,489.24 709.2,489.24 710.3,489.24 711.3,489.24 712.4,489.24 713.4,489.24 714.5,489.24 715.6,489.24 716.6,489.24 717.7,489.24 718.7,489.24 719.8,489.24 720.8,489.24 721.9,489.24 722.9,489.24 724.0,489.24 725.1,489.24 726.1,489.24 727.2,489.24 728.2,489.24 729.3,489.24 730.3,489.24 731.4,489.24 732.4,489.24 733.5,489.24 734.6,489.24 735.6,489.24 736.7,489.24 737.7,489.24 738.8,489.24 739.8,489.24 740.9,489.24 741.9,489.24 743.0,489.24 744.1,489.24 745.1,489.24 746.2,489.24 747.2,489.24 748.3,489.24 749.3,489.24 750.4,489.24 751.4,489.24 752.5,489.24 753.5,489.24 754.6,489.24 755.7,489.24 756.7,489.24 757.8,489.24 758.8,489.24 759.9,489.24 760.9,489.24 762.0,489.24 763.0,489.24 764.1,489.24 765.2,489.24 766.2,489.24 767.3,489.24 768.3,489.24 769.4,489.24 770.4,489.24 771.5,489.24 772.5,489.24 773.6,489.24 774.7,489.24 775.7,489.24 776.8,489.24 777.8,489.24 778.9,489.24 779.9,489.24 781.0,489.24 782.0,489.24 783.1,489.24 784.2,489.24 785.2,489.24 786.3,489.24 787.3,489.24 788.4,489.24 789.4,489.24 790.5,489.24 791.5,489.24 792.6,489.24 793.6,489.24 794.7,489.24 795.8,489.24 796.8,489.24 797.9,489.24 798.9,489.24 800.0,489.24 801.0,489.24 802.1,489.24 803.1,489.24 804.2,489.24 805.3,489.24 806.3,489.24 807.4,489.24 808.4,489.24 809.5,489.24 810.5,489.24 811.6,489.24 812.6,489.24 813.7,489.24"/>
<polyline clip-path="url(#c3)" fill="none" stroke="#ed1c24" stroke-width="1.95" stroke-linejoin="round" points="454.9,533.90 456.0,533.89 457.0,533.89 458.1,533.89 459.1,533.89 460.2,533.89 461.2,533.89 462.3,533.89 463.3,533.89 464.4,533.89 465.5,533.89 466.5,533.89 467.6,533.89 468.6,533.89 469.7,533.89 470.7,533.89 471.8,533.89 472.8,533.89 473.9,533.88 475.0,533.88 476.0,533.88 477.1,533.88 478.1,533.88 479.2,533.88 480.2,533.88 481.3,533.88 482.3,533.87 483.4,533.87 484.4,533.87 485.5,533.87 486.6,533.87 487.6,533.86 488.7,533.86 489.7,533.86 490.8,533.86 491.8,533.85 492.9,533.85 493.9,533.85 495.0,533.85 496.1,533.84 497.1,533.84 498.2,533.83 499.2,533.83 500.3,533.82 501.3,533.82 502.4,533.81 503.4,533.81 504.5,533.80 505.6,533.80 506.6,533.79 507.7,533.78 508.7,533.78 509.8,533.77 510.8,533.76 511.9,533.75 512.9,533.74 514.0,533.73 515.1,533.72 516.1,533.71 517.2,533.69 518.2,533.68 519.3,533.67 520.3,533.65 521.4,533.64 522.4,533.62 523.5,533.60 524.5,533.58 525.6,533.56 526.7,533.54 527.7,533.52 528.8,533.49 529.8,533.47 530.9,533.44 531.9,533.41 533.0,533.38 534.0,533.35 535.1,533.31 536.2,533.28 537.2,533.24 538.3,533.20 539.3,533.15 540.4,533.11 541.4,533.06 542.5,533.01 543.5,532.95 544.6,532.89 545.7,532.83 546.7,532.76 547.8,532.69 548.8,532.62 549.9,532.54 550.9,532.46 552.0,532.37 553.0,532.28 554.1,532.18 555.2,532.08 556.2,531.97 557.3,531.85 558.3,531.73 559.4,531.60 560.4,531.46 561.5,531.32 562.5,531.17 563.6,531.01 564.7,530.84 565.7,530.66 566.8,530.47 567.8,530.28 568.9,530.07 569.9,529.85 571.0,529.62 572.0,529.37 573.1,529.12 574.1,528.85 575.2,528.57 576.3,528.27 577.3,527.96 578.4,527.63 579.4,527.29 580.5,526.92 581.5,526.55 582.6,526.15 583.6,525.73 584.7,525.30 585.8,524.84 586.8,524.37 587.9,523.87 588.9,523.35 590.0,522.80 591.0,522.24 592.1,521.65 593.1,521.03 594.2,520.39 595.3,519.72 596.3,519.02 597.4,518.29 598.4,517.54 599.5,516.76 600.5,515.95 601.6,515.10 602.6,514.23 603.7,513.33 604.8,512.39 605.8,511.42 606.9,510.42 607.9,509.39 609.0,508.33 610.0,507.23 611.1,506.10 612.1,504.94 613.2,503.75 614.2,502.53 615.3,501.27 616.4,499.98 617.4,498.66 618.5,497.32 619.5,495.94 620.6,494.54 621.6,493.11 622.7,491.66 623.7,490.18 624.8,488.68 625.9,487.16 626.9,485.62 628.0,484.06 629.0,482.49 630.1,480.90 631.1,479.30 632.2,477.70 633.2,476.09 634.3,474.47 635.4,472.86 636.4,471.24 637.5,469.64 638.5,468.03 639.6,466.44 640.6,464.87 641.7,463.30 642.7,461.76 643.8,460.24 644.9,458.74 645.9,457.27 647.0,455.83 648.0,454.42 649.1,453.05 650.1,451.71 651.2,450.41 652.2,449.15 653.3,447.94 654.4,446.77 655.4,445.64 656.5,444.56 657.5,443.53 658.6,442.55 659.6,441.61 660.7,440.73 661.7,439.89 662.8,439.10 663.8,438.36 664.9,437.67 666.0,437.03 667.0,436.43 668.1,435.87 669.1,435.36 670.2,434.89 671.2,434.46 672.3,434.06 673.3,433.71 674.4,433.39 675.5,433.09 676.5,432.83 677.6,432.60 678.6,432.39 679.7,432.21 680.7,432.05 681.8,431.91 682.8,431.79 683.9,431.68 685.0,431.59 686.0,431.51 687.1,431.44 688.1,431.39 689.2,431.34 690.2,431.30 691.3,431.26 692.3,431.24 693.4,431.21 694.5,431.20 695.5,431.18 696.6,431.17 697.6,431.16 698.7,431.15 699.7,431.15 700.8,431.14 701.8,431.14 702.9,431.13 703.9,431.13 705.0,431.13 706.1,431.13 707.1,431.13 708.2,431.13 709.2,431.13 710.3,431.13 711.3,431.13 712.4,431.13 713.4,431.13 714.5,431.13 715.6,431.13 716.6,431.13 717.7,431.13 718.7,431.13 719.8,431.13 720.8,431.13 721.9,431.13 722.9,431.13 724.0,431.13 725.1,431.13 726.1,431.13 727.2,431.13 728.2,431.13 729.3,431.13 730.3,431.13 731.4,431.13 732.4,431.13 733.5,431.13 734.6,431.13 735.6,431.13 736.7,431.13 737.7,431.13 738.8,431.13 739.8,431.13 740.9,431.13 741.9,431.13 743.0,431.13 744.1,431.13 745.1,431.13 746.2,431.13 747.2,431.13 748.3,431.13 749.3,431.13 750.4,431.13 751.4,431.13 752.5,431.13 753.5,431.13 754.6,431.13 755.7,431.13 756.7,431.13 757.8,431.13 758.8,431.13 759.9,431.13 760.9,431.13 762.0,431.13 763.0,431.13 764.1,431.13 765.2,431.13 766.2,431.13 767.3,431.13 768.3,431.13 769.4,431.13 770.4,431.13 771.5,431.13 772.5,431.13 773.6,431.13 774.7,431.13 775.7,431.13 776.8,431.13 777.8,431.13 778.9,431.13 779.9,431.13 781.0,431.13 782.0,431.13 783.1,431.13 784.2,431.13 785.2,431.13 786.3,431.13 787.3,431.13 788.4,431.13 789.4,431.13 790.5,431.13 791.5,431.13 792.6,431.13 793.6,431.13 794.7,431.13 795.8,431.13 796.8,431.13 797.9,431.13 798.9,431.13 800.0,431.13 801.0,431.13 802.1,431.13 803.1,431.13 804.2,431.13 805.3,431.13 806.3,431.13 807.4,431.13 808.4,431.13 809.5,431.13 810.5,431.13 811.6,431.13 812.6,431.13 813.7,431.13"/>
<polyline clip-path="url(#c3)" fill="none" stroke="#000" stroke-width="1.95" stroke-linejoin="round" points="454.9,533.87 456.0,533.87 457.0,533.86 458.1,533.86 459.1,533.86 460.2,533.86 461.2,533.85 462.3,533.85 463.3,533.85 464.4,533.84 465.5,533.84 466.5,533.84 467.6,533.83 468.6,533.83 469.7,533.82 470.7,533.82 471.8,533.81 472.8,533.80 473.9,533.80 475.0,533.79 476.0,533.78 477.1,533.78 478.1,533.77 479.2,533.76 480.2,533.75 481.3,533.74 482.3,533.73 483.4,533.72 484.4,533.70 485.5,533.69 486.6,533.68 487.6,533.66 488.7,533.65 489.7,533.63 490.8,533.61 491.8,533.60 492.9,533.58 493.9,533.55 495.0,533.53 496.1,533.51 497.1,533.48 498.2,533.46 499.2,533.43 500.3,533.40 501.3,533.37 502.4,533.33 503.4,533.30 504.5,533.26 505.6,533.22 506.6,533.17 507.7,533.13 508.7,533.08 509.8,533.03 510.8,532.97 511.9,532.92 512.9,532.86 514.0,532.79 515.1,532.72 516.1,532.65 517.2,532.57 518.2,532.49 519.3,532.41 520.3,532.32 521.4,532.22 522.4,532.12 523.5,532.01 524.5,531.90 525.6,531.78 526.7,531.66 527.7,531.53 528.8,531.39 529.8,531.24 530.9,531.09 531.9,530.92 533.0,530.75 534.0,530.57 535.1,530.38 536.2,530.18 537.2,529.98 538.3,529.76 539.3,529.53 540.4,529.28 541.4,529.03 542.5,528.76 543.5,528.48 544.6,528.19 545.7,527.89 546.7,527.57 547.8,527.23 548.8,526.88 549.9,526.51 550.9,526.13 552.0,525.73 553.0,525.32 554.1,524.88 555.2,524.43 556.2,523.96 557.3,523.47 558.3,522.95 559.4,522.42 560.4,521.87 561.5,521.30 562.5,520.70 563.6,520.09 564.7,519.45 565.7,518.78 566.8,518.10 567.8,517.39 568.9,516.65 569.9,515.90 571.0,515.11 572.0,514.31 573.1,513.47 574.1,512.61 575.2,511.73 576.3,510.82 577.3,509.89 578.4,508.93 579.4,507.94 580.5,506.93 581.5,505.89 582.6,504.83 583.6,503.74 584.7,502.63 585.8,501.49 586.8,500.33 587.9,499.14 588.9,497.93 590.0,496.69 591.0,495.44 592.1,494.16 593.1,492.85 594.2,491.53 595.3,490.18 596.3,488.81 597.4,487.43 598.4,486.02 599.5,484.59 600.5,483.14 601.6,481.68 602.6,480.20 603.7,478.70 604.8,477.18 605.8,475.65 606.9,474.10 607.9,472.54 609.0,470.96 610.0,469.37 611.1,467.77 612.1,466.15 613.2,464.52 614.2,462.88 615.3,461.23 616.4,459.56 617.4,457.89 618.5,456.21 619.5,454.52 620.6,452.82 621.6,451.11 622.7,449.40 623.7,447.68 624.8,445.96 625.9,444.23 626.9,442.50 628.0,440.77 629.0,439.04 630.1,437.31 631.1,435.58 632.2,433.86 633.2,432.15 634.3,430.44 635.4,428.74 636.4,427.05 637.5,425.38 638.5,423.72 639.6,422.07 640.6,420.45 641.7,418.85 642.7,417.27 643.8,415.72 644.9,414.20 645.9,412.71 647.0,411.25 648.0,409.83 649.1,408.44 650.1,407.09 651.2,405.79 652.2,404.52 653.3,403.30 654.4,402.13 655.4,401.00 656.5,399.91 657.5,398.88 658.6,397.90 659.6,396.96 660.7,396.07 661.7,395.24 662.8,394.45 663.8,393.71 664.9,393.01 666.0,392.37 667.0,391.77 668.1,391.21 669.1,390.70 670.2,390.23 671.2,389.80 672.3,389.41 673.3,389.05 674.4,388.73 675.5,388.44 676.5,388.18 677.6,387.94 678.6,387.74 679.7,387.55 680.7,387.39 681.8,387.25 682.8,387.13 683.9,387.02 685.0,386.93 686.0,386.85 687.1,386.79 688.1,386.73 689.2,386.68 690.2,386.64 691.3,386.61 692.3,386.58 693.4,386.56 694.5,386.54 695.5,386.52 696.6,386.51 697.6,386.50 698.7,386.49 699.7,386.49 700.8,386.48 701.8,386.48 702.9,386.48 703.9,386.47 705.0,386.47 706.1,386.47 707.1,386.47 708.2,386.47 709.2,386.47 710.3,386.47 711.3,386.47 712.4,386.47 713.4,386.47 714.5,386.47 715.6,386.47 716.6,386.47 717.7,386.47 718.7,386.47 719.8,386.47 720.8,386.47 721.9,386.47 722.9,386.47 724.0,386.47 725.1,386.47 726.1,386.47 727.2,386.47 728.2,386.47 729.3,386.47 730.3,386.47 731.4,386.47 732.4,386.47 733.5,386.47 734.6,386.47 735.6,386.47 736.7,386.47 737.7,386.47 738.8,386.47 739.8,386.47 740.9,386.47 741.9,386.47 743.0,386.47 744.1,386.47 745.1,386.47 746.2,386.47 747.2,386.47 748.3,386.47 749.3,386.47 750.4,386.47 751.4,386.47 752.5,386.47 753.5,386.47 754.6,386.47 755.7,386.47 756.7,386.47 757.8,386.47 758.8,386.47 759.9,386.47 760.9,386.47 762.0,386.47 763.0,386.47 764.1,386.47 765.2,386.47 766.2,386.47 767.3,386.47 768.3,386.47 769.4,386.47 770.4,386.47 771.5,386.47 772.5,386.47 773.6,386.47 774.7,386.47 775.7,386.47 776.8,386.47 777.8,386.47 778.9,386.47 779.9,386.47 781.0,386.47 782.0,386.47 783.1,386.47 784.2,386.47 785.2,386.47 786.3,386.47 787.3,386.47 788.4,386.47 789.4,386.47 790.5,386.47 791.5,386.47 792.6,386.47 793.6,386.47 794.7,386.47 795.8,386.47 796.8,386.47 797.9,386.47 798.9,386.47 800.0,386.47 801.0,386.47 802.1,386.47 803.1,386.47 804.2,386.47 805.3,386.47 806.3,386.47 807.4,386.47 808.4,386.47 809.5,386.47 810.5,386.47 811.6,386.47 812.6,386.47 813.7,386.47"/>
<path d="M476.01 533.90v-2.70M476.01 289.20v2.70M497.11 533.90v-2.70M497.11 289.20v2.70M518.22 533.90v-5.20M518.22 289.20v5.20M539.32 533.90v-2.70M539.32 289.20v2.70M560.43 533.90v-2.70M560.43 289.20v2.70M581.54 533.90v-2.70M581.54 289.20v2.70M602.64 533.90v-2.70M602.64 289.20v2.70M623.75 533.90v-5.20M623.75 289.20v5.20M644.85 533.90v-2.70M644.85 289.20v2.70M665.96 533.90v-2.70M665.96 289.20v2.70M687.06 533.90v-2.70M687.06 289.20v2.70M708.17 533.90v-2.70M708.17 289.20v2.70M729.28 533.90v-5.20M729.28 289.20v5.20M750.38 533.90v-2.70M750.38 289.20v2.70M771.49 533.90v-2.70M771.49 289.20v2.70M792.59 533.90v-2.70M792.59 289.20v2.70M454.90 521.66h3.70M813.70 521.66h-3.70M454.90 509.43h3.70M813.70 509.43h-3.70M454.90 497.19h3.70M813.70 497.19h-3.70M454.90 484.96h3.70M813.70 484.96h-3.70M454.90 472.72h6.90M813.70 472.72h-7.30M454.90 460.49h3.70M813.70 460.49h-3.70M454.90 448.25h3.70M813.70 448.25h-3.70M454.90 436.02h3.70M813.70 436.02h-3.70M454.90 423.78h3.70M813.70 423.78h-3.70M454.90 411.55h6.90M813.70 411.55h-7.30M454.90 399.31h3.70M813.70 399.31h-3.70M454.90 387.08h3.70M813.70 387.08h-3.70M454.90 374.85h3.70M813.70 374.85h-3.70M454.90 362.61h3.70M813.70 362.61h-3.70M454.90 350.38h6.90M813.70 350.38h-7.30M454.90 338.14h3.70M813.70 338.14h-3.70M454.90 325.90h3.70M813.70 325.90h-3.70M454.90 313.67h3.70M813.70 313.67h-3.70M454.90 301.44h3.70M813.70 301.44h-3.70" fill="none" stroke="#000" stroke-width="1.9"/>
<rect x="454.90" y="289.20" width="358.80" height="244.70" rx="0.6" fill="none" stroke="#000" stroke-width="2" stroke-linejoin="round"/>
<path class="h" transform="translate(475.50 313.70) translate(0.00 0) scale(0.06250)" d="M1559-194l-7 4l-3 7l0 54l2 5l6 5l8 0l6-5l2-5l1-18l7-10l8-4l14 0l38 16l24 2l-2 6l-44 45l-8 16l-10 29l1 51l7 7l14 1l9-6l2-6l0-43l8-23l7-14l37-47l9-29l-1-30l-5-6l-10-2l-8 7l-10 18l-9 1l-42-25l-25-1l-7 3l-5 6l-7-8zM1458-194l-10 3l-22 23l-17 9l-7 8l1 9l7 6l11-1l13-7l2 1l0 130l-23 1l-9 5l-2 10l5 7l6 2l79 0l6-2l5-6l0-8l-5-6l-6-2l-23-1l0-170l-2-5l-5-5zM1212-194l-8 6l-2 5l0 53l2 6l6 5l8 0l6-5l2-5l0-15l5-10l11-7l14 0l43 17l19 1l-1 5l-42 42l-11 20l-9 26l0 54l7 7l14 1l9-6l2-6l0-42l8-24l8-15l33-40l12-35l-1-30l-9-8l-8 1l-6 6l-7 15l-4 4l-8 0l-41-25l-25-1l-8 3l-5 6l-7-8zM1088-194l-27 10l-5 4l-19 30l-9 46l0 26l9 45l19 31l9 6l24 8l25 0l29-11l21-29l10-46l0-35l-10-45l-21-29l-29-11zM1096-170l11 0l15 8l5 6l7 15l7 35l0 30l-8 38l-6 12l-8 8l-12 6l-11 0l-14-7l-7-8l-6-13l-8-42l0-18l9-45l7-13l6-6zM999-194l-64 0l-5 2l-5 7l0 6l7 8l18 2l0 134l-7 20l-3 3l-9 0l-10-5l-4-8l11-10l3-6l0-5l-3-6l-9-9l-7-3l-10 3l-9 9l-3 7l0 21l9 20l7 7l16 8l26 1l19-9l8-9l8-24l0-138l2-2l13 0l9-5l2-10l-5-7zM638-194l-28 10l-20 19l-4 9l1 22l11 21l13 12l16 8l50 16l17 8l14 14l0 23l-15 14l-19 6l-22 0l-22-8l-12-12l-10-27l-5-4l-6-1l-9 6l-2 6l0 52l2 6l9 6l9-3l7-12l7 6l24 8l36 1l31-12l18-18l3-8l-1-40l-11-21l-12-11l-21-10l-47-15l-15-7l-14-13l0-8l14-13l18-6l23 0l21 7l14 14l9 26l9 5l5-1l6-5l2-6l0-52l-2-6l-9-6l-9 3l-6 11l-10-6l-24-8zM548-194l-8 2l-6 7l-2 6l-10-7l-24-8l-25 0l-31 12l-20 21l-8 16l-9 26l-1 50l10 32l11 20l22 20l26 9l25 0l31-12l20-21l8-16l1-9l-5-7l-10-2l-9 8l-6 13l-15 15l-21 7l-12 0l-12-6l-16-16l-6-11l-9-26l0-40l8-24l8-15l12-12l15-8l13 0l20 7l14 14l6 19l7 10l7 2l9-5l3-8l0-51l-3-7zM301-194l-4 2l-6 8l-56 170l-2 2l-14 2l-5 7l1 9l4 4l6 2l57-1l7-8l-2-10l-9-5l-18-1l8-25l2-2l59 0l9 27l-13 2l-5 4l-2 10l5 7l6 2l57-1l7-7l0-8l-7-7l-12-1l-2-2l-56-170l-7-9zM299-129l22 63l-1 2l-42-1zM11-192l-5 6l1 10l6 5l18 2l0 156l-20 3l-5 6l1 10l9 6l54 0l7-3l4-6l0-6l-7-8l-18-2l1-89l37 109l8 5l5 0l5-3l4-5l36-107l1 89l-2 2l-17 1l-4 3l-3 6l1 7l6 6l4 1l62 0l6-2l5-7l-2-10l-5-4l-18-2l0-156l14-1l7-3l4-6l-2-10l-8-5l-40 0l-7 6l-44 133l-2 1l-46-135l-7-5l-39 0z"/>
<text class="s" x="475.5" y="313.9">MACS J0717</text>
<path class="h" transform="translate(517.32 558.20) translate(-10.84 0) scale(0.06250)" d="M247-194l-26 9l-7 6l-16 24l-10 44l-1 33l9 46l19 30l9 6l24 8l25 0l26-9l7-6l16-24l3-7l8-40l0-34l-8-40l-18-30l-10-8l-24-8zM254-170l12 0l12 6l8 8l7 16l7 35l0 28l-9 41l-5 10l-8 8l-12 6l-14-1l-10-5l-7-7l-7-15l-8-40l0-22l9-43l6-12l7-7zM41-186l-18 17l-9 21l0 10l3 8l13 11l5 1l9-4l8-8l3-6l0-6l-11-13l1-3l5-5l21-7l30 0l12 6l6 5l7 13l1 12l-5 11l-22 16l-51 25l-23 21l-12 31l1 34l7 7l5 1l5-2l6-9l0-13l2-2l8 0l43 25l43 0l14-11l11-22l1-21l-2-6l-5-5l-11 0l-6 7l-1 16l-16 10l-22 0l-38-16l-16-2l2-6l15-15l60-25l25-17l6-7l9-21l0-17l-2-7l-10-19l-9-9l-31-12l-43 0z"/>
<text class="s" text-anchor="middle" x="518.22" y="558.2">20</text>
<path class="h" transform="translate(622.85 558.20) translate(-10.84 0) scale(0.06250)" d="M214-194l-7 5l-3 7l-16 80l1 13l6 5l8 0l22-19l18-6l24 0l13 7l13 13l7 21l0 15l-7 20l-15 15l-12 6l-21 0l-21-7l-7-7l9-9l2-4l0-8l-2-5l-9-9l-8-3l-9 3l-11 12l-2 6l2 15l10 19l9 9l31 12l34 0l26-9l22-20l11-29l0-30l-11-28l-23-21l-24-8l-31-1l-24 8l-1-2l8-33l34 0l46-9l8-6l1-10l-9-8zM41-186l-18 17l-9 21l0 10l3 8l13 11l5 1l9-4l8-8l3-6l0-6l-11-13l1-3l5-5l21-7l30 0l12 6l6 5l7 13l1 12l-5 11l-22 16l-51 25l-23 21l-12 31l1 34l7 7l5 1l5-2l6-9l0-13l2-2l8 0l43 25l43 0l14-11l11-22l1-21l-2-6l-5-5l-11 0l-6 7l-1 16l-16 10l-22 0l-38-16l-16-2l2-6l15-15l60-25l25-17l6-7l9-21l0-17l-2-7l-10-19l-9-9l-31-12l-43 0z"/>
<text class="s" text-anchor="middle" x="623.75" y="558.2">25</text>
<path class="h" transform="translate(728.38 558.20) translate(-10.84 0) scale(0.06250)" d="M247-194l-26 9l-7 6l-16 24l-10 44l-1 33l9 46l19 30l9 6l24 8l25 0l26-9l7-6l16-24l3-7l8-40l0-34l-8-40l-18-30l-10-8l-24-8zM254-170l12 0l12 6l8 8l7 16l7 35l0 28l-9 41l-5 10l-8 8l-12 6l-14-1l-10-5l-7-7l-7-15l-8-40l0-22l9-43l6-12l7-7zM65-194l-26 9l-13 12l-11 20l0 19l2 4l13 11l9 0l13-11l3-6l-2-10l-9-9l6-8l21-7l30 0l10 5l7 12l0 20l-5 10l-12 7l-27 1l-6 5l-2 7l2 5l6 5l27 1l17 10l9 25l0 18l-6 13l-8 8l-12 6l-30 0l-18-6l-8-6l-1-3l11-13l0-6l-3-6l-9-9l-9-3l-8 3l-9 9l-3 8l1 15l8 16l16 16l29 9l40 0l31-12l11-12l10-23l0-26l-12-25l-14-14l7-7l9-18l0-37l-9-17l-9-7l-24-8z"/>
<text class="s" text-anchor="middle" x="729.28" y="558.2">30</text>
</g>
<path class="h" transform="translate(704.60 53.30) translate(-37.94 0) scale(0.06250)" d="M423-127l-1 9l6 7l19 3l0 95l-18 2l-5 4l-2 10l4 6l7 3l62 0l9-5l2-10l-4-6l-7-3l-13 0l-2-2l0-75l12-13l20-7l15 0l8 4l4 4l4 9l0 79l-20 3l-6 9l2 7l9 6l63 0l9-6l1-10l-5-6l-20-3l0-83l-9-21l-6-6l-32-11l-22 1l-25 9l-8-8l-6-2l-34 0l-6 2zM335-133l-5 3l-3 5l1 10l10 6l14 1l0 95l-20 3l-5 6l0 8l5 6l5 2l66-1l7-7l1-4l-2-6l-9-6l-15-1l-1-113l-4-5l-7-3zM361-194l-14 12l-3 5l0 7l12 14l6 3l5 0l6-3l9-9l3-9l-3-8l-9-9l-6-3zM141-192l-5 6l1 10l6 5l18 2l0 156l-20 3l-5 6l1 10l4 4l6 2l62 0l8-4l3-6l-3-10l-8-4l-15-1l0-77l14-13l18-6l15 0l11 7l5 10l0 78l-2 2l-17 1l-4 3l-3 6l2 9l9 5l62 0l6-2l5-7l-2-10l-5-4l-18-2l0-82l-10-23l-8-7l-29-9l-22 1l-26 9l-1-61l-2-4l-7-5l-39 0zM42-194l-9 6l-2 6l0 47l-19 3l-6 7l0 7l2 4l6 4l17 2l0 73l11 33l21 13l30 0l14-7l8-7l9-18l0-9l-7-7l-9 0l-6 5l-8 15l-10 5l-9 0l-4-4l-7-21l0-71l26-2l7-5l1-10l-2-4l-9-5l-23-1l-1-52l-6-6z"/>
<text class="s" text-anchor="end" x="704" y="53.3">thin</text>
<line x1="717.9" x2="792.7" y1="48.20" y2="48.20" stroke="#2e3192" stroke-width="2"/>
<path class="h" transform="translate(704.60 73.10) translate(-47.69 0) scale(0.06250)" d="M494-134l-30 10l-22 20l-11 29l-1 23l9 30l21 22l30 12l25 0l27-9l22-20l3-8l-1-5l-5-6l-7-2l-7 3l-15 15l-22 8l-13 0l-12-6l-15-15l-7-21l0-14l6-18l17-18l10-5l22 0l15 9l-7 10l0 6l3 6l8 8l10 4l10-5l7-7l3-8l0-10l-3-8l-21-20l-23-10zM335-133l-5 3l-3 5l1 10l10 6l14 1l0 95l-20 3l-5 6l0 8l5 6l5 2l66-1l7-7l1-4l-2-6l-9-6l-15-1l-1-113l-4-5l-7-3zM592-192l-5 6l1 10l6 5l18 2l0 156l-20 3l-5 6l1 10l9 6l63 0l5-2l5-5l0-10l-10-7l-14 0l-1-17l22-21l28 37l-10 5l-3 6l2 9l5 4l58 1l5-2l5-6l-1-10l-9-6l-12 0l-46-61l36-36l21 0l7-3l4-5l0-8l-2-4l-9-5l-52 0l-7 3l-5 7l0 5l8 10l-44 44l-1-120l-2-4l-7-5l-39 0zM361-194l-14 12l-3 5l0 7l12 14l6 3l5 0l6-3l9-9l3-9l-3-8l-9-9l-6-3zM141-192l-5 6l1 10l6 5l18 2l0 156l-20 3l-5 6l1 10l4 4l6 2l62 0l8-4l3-6l-3-10l-8-4l-15-1l0-77l14-13l18-6l15 0l11 7l5 10l0 78l-2 2l-17 1l-4 3l-3 6l2 9l9 5l62 0l6-2l5-7l-2-10l-5-4l-18-2l0-82l-10-23l-8-7l-29-9l-22 1l-26 9l-1-61l-2-4l-7-5l-39 0zM42-194l-9 6l-2 6l0 47l-19 3l-6 7l0 7l2 4l6 4l17 2l0 73l11 33l21 13l30 0l14-7l8-7l9-18l0-9l-7-7l-9 0l-6 5l-8 15l-10 5l-9 0l-4-4l-7-21l0-71l26-2l7-5l1-10l-2-4l-9-5l-23-1l-1-52l-6-6z"/>
<text class="s" text-anchor="end" x="704" y="73.1">thick</text>
<line x1="717.9" x2="792.7" y1="68.05" y2="68.05" stroke="#ed1c24" stroke-width="2"/>
<path class="h" transform="translate(704.60 92.90) translate(-43.88 0) scale(0.06250)" d="M460-113l-4 9l0 9l2 6l10 6l9 0l7-3l4-5l1-14l7-4l31 0l16 10l0 7l-3 3l-51 8l-23 8l-9 7l-10 23l0 17l9 21l8 8l26 9l31 0l21-9l9-8l8 8l20 9l12 0l9-6l0-12l-6-5l-8-1l-10-16l-1-64l-11-21l-12-11l-23-10l-35 0l-22 10zM543-64l0 33l-12 12l-14 7l-20 0l-12-7l-4-8l-1-11l8-15l11-5l41-7zM208-134l-29 9l-23 21l-11 28l-1 24l9 30l20 22l31 12l25 0l28-10l21-20l11-29l1-22l-12-35l-16-16l-8-5l-23-8zM210-109l13 0l12 6l15 15l7 22l0 11l-7 22l-15 15l-13 6l-11 0l-12-6l-15-15l-7-20l0-15l7-21l13-13zM623-194l-9 6l0 12l6 5l18 2l0 156l-20 3l-5 6l0 8l5 6l6 2l62 0l10-7l0-10l-10-7l-15-1l0-172l-2-4l-7-5zM345-194l-7 4l-3 6l0 49l-14 1l-7 3l-4 5l-1 6l2 5l6 5l18 2l0 77l10 28l6 6l16 8l29 0l16-8l7-7l8-16l1-9l-4-6l-9-3l-10 7l-8 14l-10 5l-9 0l-3-3l-7-20l0-73l26-2l6-5l2-9l-5-7l-7-3l-22-1l-1-51l-7-7zM42-194l-9 6l-2 6l0 47l-19 3l-6 7l0 7l2 4l6 4l17 2l0 73l11 33l21 13l30 0l14-7l8-7l9-18l0-9l-7-7l-9 0l-6 5l-8 15l-10 5l-9 0l-4-4l-7-21l0-71l26-2l7-5l1-10l-2-4l-9-5l-23-1l-1-52l-6-6z"/>
<text class="s" text-anchor="end" x="704" y="92.9">total</text>
<line x1="717.9" x2="792.7" y1="87.90" y2="87.90" stroke="#000" stroke-width="2"/>
<path class="h" transform="translate(444.40 20.70) translate(-31.44 0) scale(0.06250)" d="M413-79l2 7l9 6l158 0l5-2l6-9l-2-7l-5-5l-4-1l-158 0l-4 1l-6 6zM906-194l-27 10l-21 19l-11 30l-1 14l12 34l23 21l24 8l14 1l30-9l6-5l2 1l-6 23l-8 15l-13 13l-14 7l-20 0l-11-6l10-11l1-9l-3-6l-8-8l-6-3l-6 0l-6 3l-11 13l0 19l9 17l5 5l22 10l31 0l31-12l17-17l11-20l10-37l0-60l-12-31l-17-17l-31-12zM913-170l12 0l12 6l15 15l7 20l0 7l-7 20l-13 13l-19 7l-8 0l-10-5l-16-16l-7-22l7-24l15-15zM628-193l-6 7l-1 4l2 6l6 5l18 2l0 156l-20 3l-6 9l2 7l9 6l54 0l10-7l0-10l-5-5l-20-3l1-90l36 107l5 6l5 2l7-1l7-8l35-105l1 89l-20 3l-5 7l1 9l4 4l6 2l62 0l8-4l3-6l-3-10l-8-4l-15-1l0-156l20-3l6-8l-2-9l-8-5l-40 0l-7 6l-46 135l-46-135l-7-6zM282-194l-24 8l-6 4l-12 22l-1 30l10 23l3 2l-9 9l-11 20l0 48l10 18l14 13l26 9l43 0l31-12l12-14l7-14l1-44l-8-18l-12-14l12-26l0-26l-10-23l-9-7l-24-8zM289-92l29 0l12 6l8 8l5 10l0 32l-5 10l-8 8l-12 6l-29 0l-12-6l-7-7l-6-11l0-32l5-10l8-8zM277-163l12-7l29 0l10 5l7 12l0 19l-5 11l-13 7l-27 0l-11-5l-7-13l0-18zM11-192l-5 6l1 10l6 5l18 2l0 156l-20 3l-5 6l1 10l9 6l54 0l7-3l4-6l0-6l-7-8l-18-2l1-89l37 109l8 5l5 0l5-3l4-5l36-107l1 89l-2 2l-17 1l-4 3l-3 6l1 7l6 6l4 1l62 0l6-2l5-7l-2-10l-5-4l-18-2l0-156l14-1l7-3l4-6l-2-10l-8-5l-40 0l-7 6l-44 133l-2 1l-46-135l-7-5l-39 0z"/>
<text class="s" text-anchor="middle" x="444.4" y="20.7">M8-M9</text>
<path class="h" transform="translate(443.10 581.60) translate(-51.22 0) scale(0.06250)" d="M1422-134l-26 13l-12 13l-9 21l0 18l6 15l-13 22l-1 18l6 12l-5 5l-9 17l-1 15l10 23l7 6l30 9l58-1l26-10l6-6l7-14l2-16l-10-23l-7-6l-26-9l-45 0l-19-6l-6-5l6-11l22 11l20 1l27-13l11-12l9-20l0-22l-4-11l15-2l6-7l1-13l-2-5l-7-6l-10 1l-20 11l-22-12zM1382 30l7-12l9-2l15 5l43 0l20 7l3 5l-5 9l-17 6l-48 1l-20-6zM1424-109l14 0l8 4l7 11l0 32l-6 10l-10 5l-13 0l-8-4l-8-14l1-29l4-8zM1205-113l-3 8l1 14l4 5l7 3l9 0l7-3l4-5l1-14l7-4l31 0l13 7l3 4l0 5l-4 4l-50 8l-24 8l-8 7l-9 19l-1 21l2 7l11 19l6 4l24 8l36-1l16-8l9-8l8 8l16 8l15 1l9-5l2-4l-2-10l-5-4l-8-1l-10-16l0-59l-9-21l-12-13l-26-13l-35 0l-21 9zM1289-64l0 32l-11 12l-15 8l-20 0l-12-7l-5-10l0-11l8-13l11-5l41-7zM899-125l0 7l6 7l19 3l0 95l-18 2l-5 4l-2 10l7 8l66 1l9-5l2-10l-3-5l-4-3l-17-1l-2-2l0-75l12-13l20-7l15 0l8 4l8 13l0 79l-15 1l-9 6l-2 7l6 9l5 2l63 0l9-6l1-10l-5-6l-20-3l0-77l13-13l18-6l15 0l10 5l6 11l0 80l-20 3l-5 6l1 10l9 6l63 0l5-2l5-6l0-8l-5-6l-20-3l0-83l-9-21l-9-8l-29-9l-22 1l-24 8l-10 8l-10-8l-29-9l-22 1l-25 9l-8-8l-6-2l-34 0l-6 2zM576-193l-7 10l2 7l6 5l18 2l0 156l-20 3l-6 9l2 7l9 6l109 0l31-12l11-12l10-23l0-26l-12-25l-9-9l11-12l10-23l-1-21l-11-22l-14-12l-26-9zM628-82l55-1l12 6l6 6l7 14l0 18l-6 13l-8 8l-12 6l-53 0zM628-169l54-1l12 6l6 5l8 16l0 9l-6 13l-7 7l-12 6l-54 0zM474-194l-9 8l-57 173l-15 3l-5 5l0 10l10 7l57-1l7-7l1-5l-2-5l-9-6l-18-1l8-26l60-1l10 27l-13 2l-6 5l-2 7l6 9l5 2l57-1l7-7l0-8l-7-7l-13-2l-57-173l-7-7zM472-128l2 1l20 60l-1 3l-42-1zM114-194l-64 0l-9 8l0 8l5 6l20 3l0 133l-7 20l-4 4l-9 0l-10-5l-4-7l11-10l3-6l-2-11l-10-10l-7-3l-9 3l-9 9l-4 8l1 23l9 18l5 5l17 9l30 0l17-9l6-7l9-29l0-135l18-2l7-7l-1-10zM1543-229l-8 4l-3 5l0 6l5 7l5 2l41 1l0 252l-39 0l-10 6l-2 10l6 7l5 2l62 0l9-5l3-8l0-277l-3-7l-9-5zM303-229l-6 2l-4 4l-2 6l0 278l2 6l10 6l61 0l6-2l6-8l0-5l-5-7l-8-3l-37 1l-2-2l0-250l2-2l40 0l8-5l2-9l-6-8l-5-2z"/>
<text class="s" text-anchor="middle" x="443.1" y="581.2">J [AB mag]</text>
<g transform="translate(21.00 434.60) rotate(-90)">
<path class="h" transform="translate(0.00 0.00) scale(0.06250)" d="M861-29l-5 0l-6 3l-9 9l-3 7l3 10l11 10l-3 8l-8 8l-3 7l2 8l6 5l8 0l13-11l12-24l0-22l-3-6l-9-9zM535-125l0 7l4 6l7 3l14 1l0 95l-15 1l-9 6l-1 10l7 7l66 1l9-6l2-7l-6-9l-20-3l0-77l12-12l20-7l15 0l8 4l8 14l0 77l-2 2l-17 1l-5 4l-2 10l7 8l66 1l9-5l2-10l-5-7l-20-3l0-78l11-11l20-7l15 0l10 5l6 11l0 80l-20 3l-5 6l-1 4l2 6l9 6l63 0l5-2l5-6l0-8l-5-6l-20-3l0-83l-9-21l-9-8l-29-9l-22 1l-24 8l-11 9l-5-6l-7-4l-26-8l-22 1l-27 9l-6-8l-6-2l-34 0l-6 2zM493-168l-5 1l-137 77l-7 9l0 6l9 10l135 76l7 1l7-3l4-6l0-6l-6-8l-119-67l119-67l6-8l0-6l-5-7zM11-192l-5 6l1 10l6 5l18 2l0 156l-20 3l-5 6l1 10l9 6l54 0l7-3l4-6l0-6l-7-8l-18-2l1-121l89 141l8 5l10-3l4-6l0-172l20-3l5-5l1-4l-2-8l-8-5l-56 0l-9 8l0 8l5 6l20 3l-1 108l-76-121l-8-10l-4-2l-39 0zM291-228l-25 23l-16 24l-18 36l-10 46l0 42l10 46l18 36l16 24l20 20l5 3l8 0l7-7l0-8l-2-5l-15-14l-17-32l-8-23l-9-43l0-36l9-43l8-23l14-28l18-18l3-9l-2-6l-4-4z"/>
<path d="M58.38 -3.40C58.51 -3.75 58.80 -4.72 59.18 -5.47C59.57 -6.22 60.30 -6.99 60.70 -7.90C61.11 -8.81 61.60 -10.20 61.61 -10.93C61.63 -11.66 61.12 -12.30 60.77 -12.30C60.43 -12.30 59.91 -11.66 59.55 -10.93C59.20 -10.20 58.87 -8.91 58.64 -7.90C58.42 -6.89 58.26 -5.87 58.18 -4.86C58.11 -3.85 58.09 -2.51 58.18 -1.83C58.28 -1.15 58.44 -0.95 58.77 -0.80C59.09 -0.65 59.67 -0.50 60.12 -0.92C60.58 -1.34 61.27 -2.95 61.49 -3.35" fill="none" stroke="#000" stroke-width="1.45" stroke-linecap="round" stroke-linejoin="round"/>
<path class="h" transform="translate(61.80 0.00) scale(0.06250)" d="M46-29l-6 0l-5 3l-12 14l0 6l3 6l11 10l-3 8l-8 8l-3 6l1 8l7 6l7 0l6-3l8-8l11-20l0-28l-11-13zM3459-128l-2 9l6 8l20 3l0 94l-2 2l-17 1l-4 3l-3 6l3 10l8 4l62 0l9-5l2-10l-5-7l-20-3l0-78l11-11l20-7l15 0l10 5l6 11l0 80l-20 3l-5 6l1 10l9 6l63 0l9-6l2-6l-2-6l-4-4l-20-3l0-83l-9-21l-6-6l-32-11l-22 1l-26 10l-7-9l-6-2l-34 0zM3370-133l-8 8l2 11l9 5l14 1l0 95l-20 3l-5 6l0 8l5 6l6 2l66-1l6-6l0-10l-6-6l-19-2l0-111l-6-8l-6-2zM3076-125l0 8l4 5l7 3l14 1l0 95l-15 1l-9 6l-1 10l7 7l66 1l9-6l2-6l-2-6l-4-4l-20-3l0-77l12-12l20-7l15 0l8 4l7 11l0 81l-18 2l-5 4l-2 10l7 8l66 1l9-5l2-10l-4-6l-7-3l-13 0l-2-2l0-75l12-13l20-7l15 0l8 4l4 4l4 9l0 79l-20 3l-6 9l2 7l9 6l63 0l5-2l5-6l0-8l-5-6l-20-3l0-83l-9-21l-9-8l-29-9l-22 1l-24 8l-11 9l-10-9l-28-9l-23 1l-26 10l-5-8l-7-3l-35 0l-8 4zM2983-134l-29 9l-23 21l-11 28l-1 24l9 30l20 22l31 12l25 0l31-12l18-18l3-8l-1-4l-5-6l-7-2l-8 3l-14 15l-22 8l-13 0l-12-6l-15-15l-7-20l0-15l7-21l13-13l13-7l22 0l15 9l-7 10l0 7l3 5l8 8l10 4l7-3l10-9l3-8l0-10l-3-8l-21-20l-23-10zM2772-133l-8 7l-1 5l2 6l6 5l18 2l0 95l-20 3l-5 6l0 8l5 6l5 2l66-1l7-7l-1-10l-9-6l-15-1l0-55l6-19l15-16l15-6l4 14l13 11l8 0l5-3l11-13l0-17l-11-13l-9-4l-26 0l-21 9l-9 8l-3-11l-10-6zM2610-113l-3 8l0 11l6 9l6 2l9 0l8-4l4-8l0-10l7-4l31 0l10 5l5 5l0 8l-3 2l-50 8l-24 8l-9 8l-8 16l-1 23l10 23l4 4l29 11l31 0l21-9l9-8l8 8l19 9l12 0l9-5l2-4l-2-10l-5-4l-8-1l-10-16l0-58l-10-23l-11-12l-27-13l-34 0l-23 10zM2693-64l0 33l-13 13l-12 6l-20 0l-12-7l-5-10l0-11l4-9l4-4l11-5zM2312-133l-8 8l2 11l9 5l14 1l0 95l-20 3l-5 6l0 8l5 6l6 2l66-1l4-3l3-6l-3-10l-8-4l-15-1l0-54l7-21l16-16l10-5l4 0l0 7l3 7l12 10l9 1l14-11l3-7l0-13l-3-6l-9-9l-9-4l-29 1l-19 9l-8 7l-3-11l-6-5zM2211-134l-30 10l-22 20l-11 29l-1 23l12 35l22 20l26 9l26 0l30-12l18-17l3-8l-1-6l-5-5l-7-2l-7 3l-16 16l-21 7l-12 0l-13-6l-15-15l-7-23l96-2l6-5l2-5l0-20l-8-19l-16-17l-23-10zM2185-83l2-5l16-16l10-5l22 0l10 5l6 11l-1 11zM1965-133l-8 8l1 9l7 6l17 2l0 156l-13 0l-7 3l-5 6l0 7l3 5l8 4l65-1l7-6l1-8l-2-4l-7-5l-15 0l-2-2l0-43l2-1l20 9l22 0l31-12l17-17l4-7l9-29l-1-21l-8-24l-4-6l-23-21l-29-9l-17 0l-22 10l-7-8l-6-2zM2040-109l13 0l12 6l15 15l6 18l0 18l-7 20l-13 13l-14 7l-11 0l-12-6l-14-14l0-57l13-14zM1679-133l-8 8l2 11l9 5l14 1l0 95l-20 3l-5 6l0 8l5 6l5 2l66-1l7-6l0-10l-10-7l-15-1l0-54l6-19l17-18l10-5l4 0l0 7l3 7l12 10l9 1l14-11l2-4l0-18l-11-13l-9-4l-29 1l-19 9l-8 7l-3-11l-6-5zM1578-134l-30 10l-22 20l-11 29l-1 23l9 30l21 22l30 12l25 0l27-9l22-20l3-8l-2-7l-4-4l-7-2l-7 3l-19 17l-18 6l-13 0l-12-6l-15-15l-7-23l96-2l6-5l2-5l0-20l-8-19l-16-17l-23-10zM1552-83l2-5l16-16l10-5l22 0l10 5l6 11l-1 11zM1038-125l0 7l4 6l7 3l14 1l0 95l-15 1l-9 6l-1 10l7 7l66 1l9-6l2-7l-6-9l-20-3l0-77l12-12l20-7l15 0l8 4l8 14l0 77l-2 2l-17 1l-5 4l-2 10l7 8l66 1l9-5l2-10l-4-6l-7-3l-14-1l0-78l11-11l20-7l15 0l10 5l6 11l0 80l-20 3l-5 6l-1 4l2 6l9 6l63 0l5-2l5-6l0-8l-5-6l-20-3l0-83l-9-21l-9-8l-29-9l-22 1l-24 8l-11 9l-5-6l-7-4l-26-8l-22 1l-27 9l-6-8l-6-2l-35 0l-9 5zM848-127l-1 9l6 7l19 3l0 82l10 23l7 6l26 9l25 0l28-9l2 4l7 5l39 0l9-6l1-10l-5-6l-20-3l0-109l-4-8l-8-4l-35 0l-10 6l-2 8l6 9l20 3l0 76l-11 12l-22 8l-13 0l-10-5l-7-13l-1-97l-5-5l-6-2l-34 0l-6 2zM658-128l-2 9l6 8l20 3l0 94l-2 2l-17 1l-4 3l-3 5l0 6l3 5l8 4l62 0l9-5l2-10l-5-7l-20-3l0-78l11-11l20-7l15 0l10 5l6 11l0 80l-20 3l-5 6l-1 4l2 6l9 6l63 0l9-6l1-10l-5-6l-20-3l0-83l-9-21l-6-6l-32-11l-22 1l-26 10l-7-9l-6-2l-34 0zM3397-194l-6 3l-9 9l-3 6l0 5l3 6l9 9l6 3l5 0l6-3l9-9l3-10l-3-7l-9-9l-6-3zM1329-192l-5 6l2 11l5 4l18 2l0 169l3 7l5 4l14 1l8-4l3-6l17 9l27 1l31-12l19-20l10-28l0-26l-8-24l-21-23l-6-4l-24-8l-22-1l-22 10l-1-61l-2-4l-7-5l-39 0zM1407-109l13 0l12 6l14 14l7 20l0 17l-7 20l-13 13l-14 7l-11 0l-12-6l-14-14l0-58l13-13zM99-193l-6 7l-1 4l2 6l6 5l18 2l0 170l2 5l9 6l11 0l5-2l6-8l17 9l27 1l31-12l20-22l9-30l-1-23l-11-29l-23-21l-24-8l-22-1l-22 10l-1-59l-2-5l-7-6zM175-109l14 0l13 7l12 12l8 22l0 15l-7 20l-15 15l-12 6l-11 0l-13-6l-13-13l0-59l14-14zM291-228l-7 6l-1 7l3 7l17 17l15 30l8 23l9 45l0 30l-8 41l-7 22l-17 35l-17 17l-3 7l0 4l6 8l10 1l5-3l21-22l15-23l18-36l10-49l0-34l-10-50l-19-37l-18-26l-17-17l-5-3zM563-229l-7 3l-5 9l0 277l3 8l9 5l62 0l5-2l6-7l0-6l-5-7l-7-3l-39 0l0-252l42-1l7-5l2-10l-3-5l-8-4z"/>
<path class="h" transform="translate(289.42 -8.70) scale(0.06250)" d="M24-119l-11 9l-8 16l0 11l8 10l5 3l8 0l12-13l0-6l-6-8l14-5l15 0l7 3l7 10l0 6l-5 7l-9 6l-33 16l-15 14l-8 20l0 23l6 7l8 1l7-5l1-10l2-1l27 16l28 0l10-8l8-14l1-16l-5-9l-4-2l-8 1l-5 6l-1 10l-6 4l-14 0l-27-11l6-6l32-13l21-13l10-16l0-20l-6-12l-9-9l-19-7l-29 0z"/>
<path class="h" transform="translate(296.17 0.00) scale(0.06250)" d="M26-229l-6 2l-6 9l2 8l5 4l43 1l2 2l0 250l-2 2l-41 0l-7 5l-2 7l2 6l4 4l6 2l61 0l6-2l4-4l2-6l0-278l-2-6l-9-6z"/>
<text class="s" x="0" y="0">N(&lt;m,&#8467;,b) [number per arcmin&#178;]</text>
</g>
</svg></body></html>
